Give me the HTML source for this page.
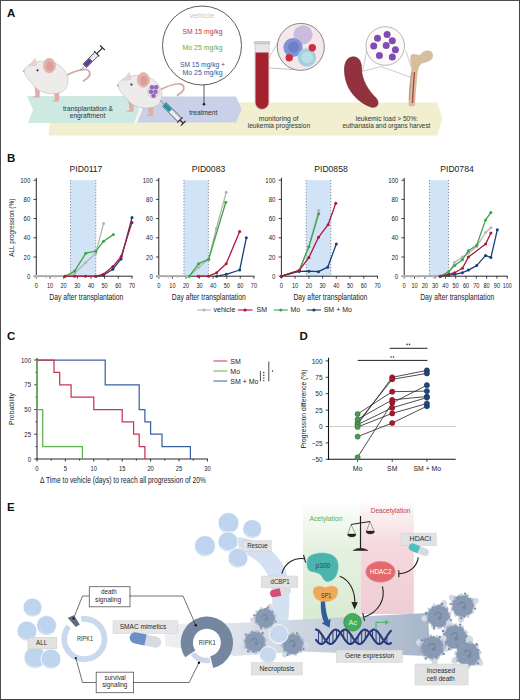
<!DOCTYPE html><html><head><meta charset="utf-8"><style>html,body{margin:0;padding:0;background:#fff;overflow:hidden;width:520px;height:700px;}svg{display:block;}text{font-family:"Liberation Sans",sans-serif;}</style></head><body>
<svg width="520" height="700" viewBox="0 0 520 700">
<rect width="520" height="700" fill="#fff"/>
<text x="7" y="16.5" font-size="11.5" font-weight="bold" fill="#111">A</text>
<polygon points="52,102.4 437.4,102.4 442.4,118.8 437.4,135.5 48.5,135.5" fill="#f2eed0"/>
<polygon points="27,96 134,96 139,109.5 134,123 28,123 33,109.5" fill="#cde9e2"/>
<polygon points="134,96 137,96.5 142.5,109.5 137,122.5 134,123 139.5,109.5" fill="#f7f7f4"/>
<polygon points="137,96.5 236,96.5 241.5,109.5 236,122.5 137,122.5 142.5,109.5" fill="#c9d1e8"/>
<text x="88.0" y="110.5" font-size="7" fill="#333" text-anchor="middle" font-weight="normal" textLength="50" lengthAdjust="spacingAndGlyphs" >transplantation &amp;</text>
<text x="87.5" y="118.3" font-size="7" fill="#333" text-anchor="middle" font-weight="normal" textLength="35.6" lengthAdjust="spacingAndGlyphs" >engraftment</text>
<text x="203.3" y="115.0" font-size="7" fill="#333" text-anchor="middle" font-weight="normal" textLength="28.3" lengthAdjust="spacingAndGlyphs" >treatment</text>
<text x="278.6" y="120.8" font-size="7" fill="#333" text-anchor="middle" font-weight="normal" textLength="39.7" lengthAdjust="spacingAndGlyphs" >monitoring of</text>
<text x="278.9" y="127.8" font-size="7" fill="#333" text-anchor="middle" font-weight="normal" textLength="62.3" lengthAdjust="spacingAndGlyphs" >leukemia progression</text>
<text x="386.8" y="120.6" font-size="7" fill="#333" text-anchor="middle" font-weight="normal" textLength="62" lengthAdjust="spacingAndGlyphs" >leukemic load &gt; 50%:</text>
<text x="386.4" y="128.3" font-size="7" fill="#333" text-anchor="middle" font-weight="normal" textLength="88" lengthAdjust="spacingAndGlyphs" >euthanasia and organs harvest</text>
<circle cx="202" cy="45.5" r="39.5" fill="#fff" stroke="#4a4a4a" stroke-width="0.9"/>
<line x1="204" y1="85" x2="204" y2="104" stroke="#333" stroke-width="0.8"/><circle cx="204" cy="104.2" r="1.3" fill="#222"/>
<text x="201.9" y="18.0" font-size="7.2" fill="#c9c9c9" text-anchor="middle" font-weight="normal" textLength="25.3" lengthAdjust="spacingAndGlyphs" >vehicle</text>
<text x="202.5" y="34.0" font-size="7.2" fill="#b8313c" text-anchor="middle" font-weight="normal" textLength="40" lengthAdjust="spacingAndGlyphs" >SM 15 mg/kg</text>
<text x="202.5" y="50.0" font-size="7.2" fill="#5aab4c" text-anchor="middle" font-weight="normal" textLength="40" lengthAdjust="spacingAndGlyphs" >Mo 25 mg/kg</text>
<text x="202.5" y="67.0" font-size="7.2" fill="#2f5597" text-anchor="middle" font-weight="normal" textLength="45" lengthAdjust="spacingAndGlyphs" >SM 15 mg/kg +</text>
<text x="202.5" y="75.0" font-size="7.2" fill="#2f5597" text-anchor="middle" font-weight="normal" textLength="40" lengthAdjust="spacingAndGlyphs" >Mo 25 mg/kg</text>
<g transform="translate(0,0)"><path d="M65,76 C73,72 80,69 86,69.5 C90.5,70 91,75 87.5,78 C85.5,79.5 84,80.5 83.5,81" stroke="#d9a4a2" stroke-width="1.7" fill="none" stroke-linecap="round"/><path d="M34.5,86 L35.5,95.5 L32,97.5 L39.5,97.5 L40,87 z" fill="#e2aca8"/><path d="M53.5,90 L55,99.5 L51.5,101.5 L59,101.5 L59.5,90 z" fill="#e2aca8"/><path d="M23.7,71.3 C25,67 29,64 34,62.5 C38,61 43,61 47,61.5 C53,61.5 60,64.5 64,70 C68.5,75 69.5,83 65.5,89 C60.5,94.5 50,94.5 44,92.5 C39,91 35.5,88.5 33,84.5 C29.5,81 26,77.5 23.7,71.3 z" fill="#eeebeb" stroke="#bdb7b7" stroke-width="0.55"/><path d="M28.8,66.2 L35.2,58.1 L36.9,65 z" fill="#ecd3d1" stroke="#c9bcbc" stroke-width="0.4"/><ellipse cx="49.4" cy="65.6" rx="6" ry="7.3" fill="#e6b3ae" stroke="#cf9f9a" stroke-width="0.5"/><ellipse cx="49.8" cy="66.2" rx="3.6" ry="5" fill="#dc9e99"/><circle cx="37.5" cy="70.3" r="1.1" fill="#333"/><circle cx="23.8" cy="71.2" r="0.9" fill="#d49a98"/></g>
<g transform="translate(94,14.3)"><path d="M65,76 C73,72 80,69 86,69.5 C90.5,70 91,75 87.5,78 C85.5,79.5 84,80.5 83.5,81" stroke="#d9a4a2" stroke-width="1.7" fill="none" stroke-linecap="round"/><path d="M34.5,86 L35.5,95.5 L32,97.5 L39.5,97.5 L40,87 z" fill="#e2aca8"/><path d="M53.5,90 L55,99.5 L51.5,101.5 L59,101.5 L59.5,90 z" fill="#e2aca8"/><path d="M23.7,71.3 C25,67 29,64 34,62.5 C38,61 43,61 47,61.5 C53,61.5 60,64.5 64,70 C68.5,75 69.5,83 65.5,89 C60.5,94.5 50,94.5 44,92.5 C39,91 35.5,88.5 33,84.5 C29.5,81 26,77.5 23.7,71.3 z" fill="#eeebeb" stroke="#bdb7b7" stroke-width="0.55"/><path d="M28.8,66.2 L35.2,58.1 L36.9,65 z" fill="#ecd3d1" stroke="#c9bcbc" stroke-width="0.4"/><ellipse cx="49.4" cy="65.6" rx="6" ry="7.3" fill="#e6b3ae" stroke="#cf9f9a" stroke-width="0.5"/><ellipse cx="49.8" cy="66.2" rx="3.6" ry="5" fill="#dc9e99"/><circle cx="37.5" cy="70.3" r="1.1" fill="#333"/><circle cx="23.8" cy="71.2" r="0.9" fill="#d49a98"/><circle cx="58" cy="73" r="2.2" fill="#7a3fa6"/><circle cx="62.2" cy="73" r="2.2" fill="#7a3fa6"/><circle cx="57" cy="77.5" r="2.2" fill="#7a3fa6"/><circle cx="61.5" cy="77.5" r="2.2" fill="#7a3fa6"/><circle cx="59.5" cy="81.5" r="2.2" fill="#7a3fa6"/><circle cx="59.5" cy="77.3" r="6.8" fill="#c9b5de" opacity="0.35"/></g>
<g transform="translate(80.4,70.3) rotate(-45.5)"><line x1="0" y1="0" x2="6.3" y2="0" stroke="#666" stroke-width="0.6"/><rect x="6.3" y="-2.5" width="17.0" height="5" fill="#eef0f6" stroke="#2d2d3a" stroke-width="0.7"/><rect x="6.7" y="-2" width="8.2" height="4" fill="#5e3797"/><line x1="16.0" y1="-2.4" x2="16.0" y2="-0.6" stroke="#555" stroke-width="0.4"/><line x1="18.2" y1="-2.4" x2="18.2" y2="-0.6" stroke="#555" stroke-width="0.4"/><line x1="20.4" y1="-2.4" x2="20.4" y2="-0.6" stroke="#555" stroke-width="0.4"/><line x1="23.3" y1="-3.8" x2="23.3" y2="3.8" stroke="#2d2d3a" stroke-width="1.1"/><line x1="23.3" y1="0" x2="31.5" y2="0" stroke="#2d2d3a" stroke-width="1.2"/><line x1="31.5" y1="-3.3" x2="31.5" y2="3.3" stroke="#2d2d3a" stroke-width="1.3"/></g>
<g transform="translate(159.7,99.8) rotate(45.0)"><line x1="0" y1="0" x2="6.6" y2="0" stroke="#666" stroke-width="0.6"/><rect x="6.6" y="-2.5" width="21.9" height="5" fill="#eef0f6" stroke="#2d2d3a" stroke-width="0.7"/><rect x="7.0" y="-2" width="8.3" height="4" fill="#1f95a3"/><line x1="16.5" y1="-2.4" x2="16.5" y2="-0.6" stroke="#555" stroke-width="0.4"/><line x1="18.7" y1="-2.4" x2="18.7" y2="-0.6" stroke="#555" stroke-width="0.4"/><line x1="20.9" y1="-2.4" x2="20.9" y2="-0.6" stroke="#555" stroke-width="0.4"/><line x1="23.1" y1="-2.4" x2="23.1" y2="-0.6" stroke="#555" stroke-width="0.4"/><line x1="25.3" y1="-2.4" x2="25.3" y2="-0.6" stroke="#555" stroke-width="0.4"/><line x1="27.5" y1="-2.4" x2="27.5" y2="-0.6" stroke="#555" stroke-width="0.4"/><line x1="28.6" y1="-3.8" x2="28.6" y2="3.8" stroke="#2d2d3a" stroke-width="1.1"/><line x1="28.6" y1="0" x2="33.2" y2="0" stroke="#2d2d3a" stroke-width="1.2"/><line x1="33.2" y1="-3.3" x2="33.2" y2="3.3" stroke="#2d2d3a" stroke-width="1.3"/></g>
<line x1="263" y1="67.7" x2="279.5" y2="40" stroke="#999" stroke-width="0.6"/>
<line x1="263" y1="67.7" x2="294" y2="69.5" stroke="#999" stroke-width="0.6"/>
<path d="M255,42.5 h14 v60 a7,7 0 0 1 -14,0 z" fill="#e9e6e8" stroke="#bbb" stroke-width="0.6"/>
<path d="M255.5,52.5 h13 v50 a6.5,6.5 0 0 1 -13,0 z" fill="#a3222e"/>
<rect x="254" y="41.5" width="16" height="2.4" rx="0.8" fill="#d0d0d0" stroke="#aaa" stroke-width="0.4"/>
<circle cx="300.8" cy="46.9" r="23.5" fill="#f4e8ea" stroke="#7a7a7a" stroke-width="0.9"/>
<circle cx="303" cy="34.8" r="9.6" fill="#cbbcdd"/>
<circle cx="293" cy="47.5" r="9.6" fill="#8093d6"/><circle cx="293.5" cy="47" r="5.5" fill="#6c7fc9"/>
<circle cx="306.9" cy="57.5" r="9.2" fill="#a3d0df"/><circle cx="307.2" cy="57.5" r="5.8" fill="#b9e0ea"/>
<circle cx="289.2" cy="57.7" r="3.7" fill="#cf2f3d"/><circle cx="312.3" cy="47.7" r="3.7" fill="#cf2f3d"/>
<polyline points="366.9,50 362.5,71.3 381,66.6 411.3,77.5" fill="none" stroke="#a9a9a9" stroke-width="0.6"/>
<line x1="405.7" y1="50.7" x2="411.6" y2="67.9" stroke="#a9a9a9" stroke-width="0.6"/>
<circle cx="385.2" cy="46" r="19.3" fill="#fcf9f7" stroke="#9a9a9a" stroke-width="0.7"/>
<circle cx="377.5" cy="38.3" r="3.5" fill="#7f4bb5"/>
<circle cx="387.1" cy="34.4" r="3.5" fill="#7f4bb5"/>
<circle cx="392.3" cy="40.8" r="3.5" fill="#7f4bb5"/>
<circle cx="373.7" cy="46" r="3.5" fill="#7f4bb5"/>
<circle cx="386.2" cy="45.6" r="3.5" fill="#7f4bb5"/>
<circle cx="395.4" cy="49.8" r="3.5" fill="#7f4bb5"/>
<circle cx="379.4" cy="55.6" r="3.5" fill="#7f4bb5"/>
<circle cx="392.3" cy="57.1" r="3.5" fill="#7f4bb5"/>
<path d="M350,57.5 C357,55 361.5,60 361.5,68 C361.5,80 368,90 376,98 C380,103 378,108.5 371,107 C359,103 348,92 345.3,78 C343.5,68 344.5,60 350,57.5 z" fill="#92323e" stroke="#6f2029" stroke-width="0.6"/>
<path d="M408.5,105 C408.5,92 410,80 411.5,68 C410.5,62 409.5,57 411.5,54.5 C414,53 417,55 420,55 C422,52 425,50 429,50.5 C433,51.5 434,56 432,59 C430,61.5 426,62 422,63.5 C419,65 418,70 417.5,74 C416.5,85 415.5,95 415,105 C413,107 410.5,107 408.5,105 z" fill="#d7bf9d"/>
<path d="M412.5,103 C413,92 413.5,82 414.5,72" stroke="#b5434f" stroke-width="1.4" fill="none"/>
<path d="M409.5,100 C409.5,92 410.5,82 411.8,72" stroke="#b98c6e" stroke-width="1.2" fill="none" opacity="0.7"/>
<text x="7" y="162" font-size="11.5" font-weight="bold" fill="#111">B</text>
<text transform="translate(13.9,227.7) rotate(-90)" font-size="7.4" fill="#222" text-anchor="middle" textLength="58" lengthAdjust="spacingAndGlyphs">ALL progression (%)</text>
<rect x="70.5" y="180.2" width="25.3" height="96.0" fill="#d1e3f6"/>
<line x1="70.5" y1="180.2" x2="70.5" y2="276.2" stroke="#3d4a60" stroke-width="0.7" stroke-dasharray="1,2"/>
<line x1="95.8" y1="180.2" x2="95.8" y2="276.2" stroke="#3d4a60" stroke-width="0.7" stroke-dasharray="1,2"/>
<line x1="36.3" y1="177.8" x2="36.3" y2="276.7" stroke="#111" stroke-width="0.9"/>
<line x1="35.8" y1="276.2" x2="132.5" y2="276.2" stroke="#111" stroke-width="0.9"/>
<line x1="33.5" y1="276.2" x2="36.3" y2="276.2" stroke="#111" stroke-width="0.8"/>
<text x="30.3" y="278.8" font-size="7.2" fill="#222" text-anchor="end" font-weight="normal" textLength="3.35" lengthAdjust="spacingAndGlyphs" >0</text>
<line x1="33.5" y1="257.0" x2="36.3" y2="257.0" stroke="#111" stroke-width="0.8"/>
<text x="30.3" y="259.6" font-size="7.2" fill="#222" text-anchor="end" font-weight="normal" textLength="6.7" lengthAdjust="spacingAndGlyphs" >20</text>
<line x1="33.5" y1="237.8" x2="36.3" y2="237.8" stroke="#111" stroke-width="0.8"/>
<text x="30.3" y="240.4" font-size="7.2" fill="#222" text-anchor="end" font-weight="normal" textLength="6.7" lengthAdjust="spacingAndGlyphs" >40</text>
<line x1="33.5" y1="218.6" x2="36.3" y2="218.6" stroke="#111" stroke-width="0.8"/>
<text x="30.3" y="221.2" font-size="7.2" fill="#222" text-anchor="end" font-weight="normal" textLength="6.7" lengthAdjust="spacingAndGlyphs" >60</text>
<line x1="33.5" y1="199.4" x2="36.3" y2="199.4" stroke="#111" stroke-width="0.8"/>
<text x="30.3" y="202.0" font-size="7.2" fill="#222" text-anchor="end" font-weight="normal" textLength="6.7" lengthAdjust="spacingAndGlyphs" >80</text>
<line x1="33.5" y1="180.2" x2="36.3" y2="180.2" stroke="#111" stroke-width="0.8"/>
<text x="30.3" y="182.8" font-size="7.2" fill="#222" text-anchor="end" font-weight="normal" textLength="10.05" lengthAdjust="spacingAndGlyphs" >100</text>
<line x1="36.3" y1="276.2" x2="36.3" y2="278.7" stroke="#111" stroke-width="0.8"/>
<text x="36.3" y="287.5" font-size="6.6" fill="#222" text-anchor="middle" font-weight="normal" textLength="3.2" lengthAdjust="spacingAndGlyphs" font-stretch="condensed">0</text>
<line x1="50.0" y1="276.2" x2="50.0" y2="278.7" stroke="#111" stroke-width="0.8"/>
<text x="50.0" y="287.5" font-size="6.6" fill="#222" text-anchor="middle" font-weight="normal" textLength="6.2" lengthAdjust="spacingAndGlyphs" font-stretch="condensed">10</text>
<line x1="63.6" y1="276.2" x2="63.6" y2="278.7" stroke="#111" stroke-width="0.8"/>
<text x="63.6" y="287.5" font-size="6.6" fill="#222" text-anchor="middle" font-weight="normal" textLength="6.2" lengthAdjust="spacingAndGlyphs" font-stretch="condensed">20</text>
<line x1="77.3" y1="276.2" x2="77.3" y2="278.7" stroke="#111" stroke-width="0.8"/>
<text x="77.3" y="287.5" font-size="6.6" fill="#222" text-anchor="middle" font-weight="normal" textLength="6.2" lengthAdjust="spacingAndGlyphs" font-stretch="condensed">30</text>
<line x1="91.0" y1="276.2" x2="91.0" y2="278.7" stroke="#111" stroke-width="0.8"/>
<text x="91.0" y="287.5" font-size="6.6" fill="#222" text-anchor="middle" font-weight="normal" textLength="6.2" lengthAdjust="spacingAndGlyphs" font-stretch="condensed">40</text>
<line x1="104.6" y1="276.2" x2="104.6" y2="278.7" stroke="#111" stroke-width="0.8"/>
<text x="104.6" y="287.5" font-size="6.6" fill="#222" text-anchor="middle" font-weight="normal" textLength="6.2" lengthAdjust="spacingAndGlyphs" font-stretch="condensed">50</text>
<line x1="118.3" y1="276.2" x2="118.3" y2="278.7" stroke="#111" stroke-width="0.8"/>
<text x="118.3" y="287.5" font-size="6.6" fill="#222" text-anchor="middle" font-weight="normal" textLength="6.2" lengthAdjust="spacingAndGlyphs" font-stretch="condensed">60</text>
<line x1="132.0" y1="276.2" x2="132.0" y2="278.7" stroke="#111" stroke-width="0.8"/>
<text x="132.0" y="287.5" font-size="6.6" fill="#222" text-anchor="middle" font-weight="normal" textLength="6.2" lengthAdjust="spacingAndGlyphs" font-stretch="condensed">70</text>
<text x="86.3" y="300.0" font-size="8.2" fill="#222" text-anchor="middle" font-weight="normal" textLength="74" lengthAdjust="spacingAndGlyphs" >Day after transplantation</text>
<text x="86.0" y="172.0" font-size="8.6" fill="#222" text-anchor="middle" font-weight="normal" >PID0117</text>
<polyline points="36.3,276.2 45.9,276.2 55.4,276.2 65.0,276.2 74.6,273.3 85.5,262.8 95.8,253.2 103.6,223.4" fill="none" stroke="#b5b5b5" stroke-width="1.3" stroke-linejoin="round"/>
<circle cx="36.3" cy="276.2" r="1.5" fill="#b5b5b5"/>
<circle cx="45.9" cy="276.2" r="1.5" fill="#b5b5b5"/>
<circle cx="55.4" cy="276.2" r="1.5" fill="#b5b5b5"/>
<circle cx="65.0" cy="276.2" r="1.5" fill="#b5b5b5"/>
<circle cx="74.6" cy="273.3" r="1.5" fill="#b5b5b5"/>
<circle cx="85.5" cy="262.8" r="1.5" fill="#b5b5b5"/>
<circle cx="95.8" cy="253.2" r="1.5" fill="#b5b5b5"/>
<circle cx="103.6" cy="223.4" r="1.5" fill="#b5b5b5"/>
<polyline points="65.0,276.2 74.6,271.1 85.8,253.2 95.8,251.2 103.6,241.2 113.4,234.6" fill="none" stroke="#3fa545" stroke-width="1.3" stroke-linejoin="round"/>
<circle cx="65.0" cy="276.2" r="1.5" fill="#3fa545"/>
<circle cx="74.6" cy="271.1" r="1.5" fill="#3fa545"/>
<circle cx="85.8" cy="253.2" r="1.5" fill="#3fa545"/>
<circle cx="95.8" cy="251.2" r="1.5" fill="#3fa545"/>
<circle cx="103.6" cy="241.2" r="1.5" fill="#3fa545"/>
<circle cx="113.4" cy="234.6" r="1.5" fill="#3fa545"/>
<polyline points="95.8,276.2 103.3,275.2 112.9,269.2 121.1,258.9 132.0,217.6" fill="none" stroke="#1a3f78" stroke-width="1.3" stroke-linejoin="round"/>
<circle cx="95.8" cy="276.2" r="1.5" fill="#1a3f78"/>
<circle cx="103.3" cy="275.2" r="1.5" fill="#1a3f78"/>
<circle cx="112.9" cy="269.2" r="1.5" fill="#1a3f78"/>
<circle cx="121.1" cy="258.9" r="1.5" fill="#1a3f78"/>
<circle cx="132.0" cy="217.6" r="1.5" fill="#1a3f78"/>
<polyline points="65.0,276.2 74.6,276.2 85.5,276.2 95.8,276.2 103.3,274.3 112.9,266.6 121.1,256.6 132.0,222.4" fill="none" stroke="#b0173a" stroke-width="1.3" stroke-linejoin="round"/>
<circle cx="65.0" cy="276.2" r="1.5" fill="#b0173a"/>
<circle cx="74.6" cy="276.2" r="1.5" fill="#b0173a"/>
<circle cx="85.5" cy="276.2" r="1.5" fill="#b0173a"/>
<circle cx="95.8" cy="276.2" r="1.5" fill="#b0173a"/>
<circle cx="103.3" cy="274.3" r="1.5" fill="#b0173a"/>
<circle cx="112.9" cy="266.6" r="1.5" fill="#b0173a"/>
<circle cx="121.1" cy="256.6" r="1.5" fill="#b0173a"/>
<circle cx="132.0" cy="222.4" r="1.5" fill="#b0173a"/>
<rect x="183.9" y="180.2" width="24.5" height="96.0" fill="#d1e3f6"/>
<line x1="183.9" y1="180.2" x2="183.9" y2="276.2" stroke="#3d4a60" stroke-width="0.7" stroke-dasharray="1,2"/>
<line x1="208.4" y1="180.2" x2="208.4" y2="276.2" stroke="#3d4a60" stroke-width="0.7" stroke-dasharray="1,2"/>
<line x1="158.8" y1="177.8" x2="158.8" y2="276.7" stroke="#111" stroke-width="0.9"/>
<line x1="158.3" y1="276.2" x2="254.4" y2="276.2" stroke="#111" stroke-width="0.9"/>
<line x1="156.0" y1="276.2" x2="158.8" y2="276.2" stroke="#111" stroke-width="0.8"/>
<text x="152.8" y="278.8" font-size="7.2" fill="#222" text-anchor="end" font-weight="normal" textLength="3.35" lengthAdjust="spacingAndGlyphs" >0</text>
<line x1="156.0" y1="257.0" x2="158.8" y2="257.0" stroke="#111" stroke-width="0.8"/>
<text x="152.8" y="259.6" font-size="7.2" fill="#222" text-anchor="end" font-weight="normal" textLength="6.7" lengthAdjust="spacingAndGlyphs" >20</text>
<line x1="156.0" y1="237.8" x2="158.8" y2="237.8" stroke="#111" stroke-width="0.8"/>
<text x="152.8" y="240.4" font-size="7.2" fill="#222" text-anchor="end" font-weight="normal" textLength="6.7" lengthAdjust="spacingAndGlyphs" >40</text>
<line x1="156.0" y1="218.6" x2="158.8" y2="218.6" stroke="#111" stroke-width="0.8"/>
<text x="152.8" y="221.2" font-size="7.2" fill="#222" text-anchor="end" font-weight="normal" textLength="6.7" lengthAdjust="spacingAndGlyphs" >60</text>
<line x1="156.0" y1="199.4" x2="158.8" y2="199.4" stroke="#111" stroke-width="0.8"/>
<text x="152.8" y="202.0" font-size="7.2" fill="#222" text-anchor="end" font-weight="normal" textLength="6.7" lengthAdjust="spacingAndGlyphs" >80</text>
<line x1="156.0" y1="180.2" x2="158.8" y2="180.2" stroke="#111" stroke-width="0.8"/>
<text x="152.8" y="182.8" font-size="7.2" fill="#222" text-anchor="end" font-weight="normal" textLength="10.05" lengthAdjust="spacingAndGlyphs" >100</text>
<line x1="158.8" y1="276.2" x2="158.8" y2="278.7" stroke="#111" stroke-width="0.8"/>
<text x="158.8" y="287.5" font-size="6.6" fill="#222" text-anchor="middle" font-weight="normal" textLength="3.2" lengthAdjust="spacingAndGlyphs" font-stretch="condensed">0</text>
<line x1="172.4" y1="276.2" x2="172.4" y2="278.7" stroke="#111" stroke-width="0.8"/>
<text x="172.4" y="287.5" font-size="6.6" fill="#222" text-anchor="middle" font-weight="normal" textLength="6.2" lengthAdjust="spacingAndGlyphs" font-stretch="condensed">10</text>
<line x1="186.0" y1="276.2" x2="186.0" y2="278.7" stroke="#111" stroke-width="0.8"/>
<text x="186.0" y="287.5" font-size="6.6" fill="#222" text-anchor="middle" font-weight="normal" textLength="6.2" lengthAdjust="spacingAndGlyphs" font-stretch="condensed">20</text>
<line x1="199.6" y1="276.2" x2="199.6" y2="278.7" stroke="#111" stroke-width="0.8"/>
<text x="199.6" y="287.5" font-size="6.6" fill="#222" text-anchor="middle" font-weight="normal" textLength="6.2" lengthAdjust="spacingAndGlyphs" font-stretch="condensed">30</text>
<line x1="213.2" y1="276.2" x2="213.2" y2="278.7" stroke="#111" stroke-width="0.8"/>
<text x="213.2" y="287.5" font-size="6.6" fill="#222" text-anchor="middle" font-weight="normal" textLength="6.2" lengthAdjust="spacingAndGlyphs" font-stretch="condensed">40</text>
<line x1="226.8" y1="276.2" x2="226.8" y2="278.7" stroke="#111" stroke-width="0.8"/>
<text x="226.8" y="287.5" font-size="6.6" fill="#222" text-anchor="middle" font-weight="normal" textLength="6.2" lengthAdjust="spacingAndGlyphs" font-stretch="condensed">50</text>
<line x1="240.3" y1="276.2" x2="240.3" y2="278.7" stroke="#111" stroke-width="0.8"/>
<text x="240.3" y="287.5" font-size="6.6" fill="#222" text-anchor="middle" font-weight="normal" textLength="6.2" lengthAdjust="spacingAndGlyphs" font-stretch="condensed">60</text>
<line x1="253.9" y1="276.2" x2="253.9" y2="278.7" stroke="#111" stroke-width="0.8"/>
<text x="253.9" y="287.5" font-size="6.6" fill="#222" text-anchor="middle" font-weight="normal" textLength="6.2" lengthAdjust="spacingAndGlyphs" font-stretch="condensed">70</text>
<text x="208.8" y="300.0" font-size="8.2" fill="#222" text-anchor="middle" font-weight="normal" textLength="74" lengthAdjust="spacingAndGlyphs" >Day after transplantation</text>
<text x="208.5" y="172.0" font-size="8.6" fill="#222" text-anchor="middle" font-weight="normal" >PID0083</text>
<polyline points="158.8,276.2 168.3,276.2 177.8,276.2 187.3,276.2 189.4,276.2 198.6,267.6 208.7,259.2 216.3,228.5 226.2,192.3" fill="none" stroke="#b5b5b5" stroke-width="1.3" stroke-linejoin="round"/>
<circle cx="158.8" cy="276.2" r="1.5" fill="#b5b5b5"/>
<circle cx="168.3" cy="276.2" r="1.5" fill="#b5b5b5"/>
<circle cx="177.8" cy="276.2" r="1.5" fill="#b5b5b5"/>
<circle cx="187.3" cy="276.2" r="1.5" fill="#b5b5b5"/>
<circle cx="189.4" cy="276.2" r="1.5" fill="#b5b5b5"/>
<circle cx="198.6" cy="267.6" r="1.5" fill="#b5b5b5"/>
<circle cx="208.7" cy="259.2" r="1.5" fill="#b5b5b5"/>
<circle cx="216.3" cy="228.5" r="1.5" fill="#b5b5b5"/>
<circle cx="226.2" cy="192.3" r="1.5" fill="#b5b5b5"/>
<polyline points="189.4,276.2 198.6,263.7 208.7,259.2 225.8,202.3" fill="none" stroke="#3fa545" stroke-width="1.3" stroke-linejoin="round"/>
<circle cx="189.4" cy="276.2" r="1.5" fill="#3fa545"/>
<circle cx="198.6" cy="263.7" r="1.5" fill="#3fa545"/>
<circle cx="208.7" cy="259.2" r="1.5" fill="#3fa545"/>
<circle cx="225.8" cy="202.3" r="1.5" fill="#3fa545"/>
<polyline points="216.6,276.2 226.2,274.3 239.7,270.0 246.3,237.8" fill="none" stroke="#1a3f78" stroke-width="1.3" stroke-linejoin="round"/>
<circle cx="216.6" cy="276.2" r="1.5" fill="#1a3f78"/>
<circle cx="226.2" cy="274.3" r="1.5" fill="#1a3f78"/>
<circle cx="239.7" cy="270.0" r="1.5" fill="#1a3f78"/>
<circle cx="246.3" cy="237.8" r="1.5" fill="#1a3f78"/>
<polyline points="198.2,276.2 208.5,276.2 216.6,272.8 226.2,263.7 239.7,231.6" fill="none" stroke="#b0173a" stroke-width="1.3" stroke-linejoin="round"/>
<circle cx="198.2" cy="276.2" r="1.5" fill="#b0173a"/>
<circle cx="208.5" cy="276.2" r="1.5" fill="#b0173a"/>
<circle cx="216.6" cy="272.8" r="1.5" fill="#b0173a"/>
<circle cx="226.2" cy="263.7" r="1.5" fill="#b0173a"/>
<circle cx="239.7" cy="231.6" r="1.5" fill="#b0173a"/>
<rect x="306.1" y="180.2" width="24.7" height="96.0" fill="#d1e3f6"/>
<line x1="306.1" y1="180.2" x2="306.1" y2="276.2" stroke="#3d4a60" stroke-width="0.7" stroke-dasharray="1,2"/>
<line x1="330.8" y1="180.2" x2="330.8" y2="276.2" stroke="#3d4a60" stroke-width="0.7" stroke-dasharray="1,2"/>
<line x1="281.4" y1="177.8" x2="281.4" y2="276.7" stroke="#111" stroke-width="0.9"/>
<line x1="280.9" y1="276.2" x2="378.0" y2="276.2" stroke="#111" stroke-width="0.9"/>
<line x1="278.59999999999997" y1="276.2" x2="281.4" y2="276.2" stroke="#111" stroke-width="0.8"/>
<text x="275.4" y="278.8" font-size="7.2" fill="#222" text-anchor="end" font-weight="normal" textLength="3.35" lengthAdjust="spacingAndGlyphs" >0</text>
<line x1="278.59999999999997" y1="257.0" x2="281.4" y2="257.0" stroke="#111" stroke-width="0.8"/>
<text x="275.4" y="259.6" font-size="7.2" fill="#222" text-anchor="end" font-weight="normal" textLength="6.7" lengthAdjust="spacingAndGlyphs" >20</text>
<line x1="278.59999999999997" y1="237.8" x2="281.4" y2="237.8" stroke="#111" stroke-width="0.8"/>
<text x="275.4" y="240.4" font-size="7.2" fill="#222" text-anchor="end" font-weight="normal" textLength="6.7" lengthAdjust="spacingAndGlyphs" >40</text>
<line x1="278.59999999999997" y1="218.6" x2="281.4" y2="218.6" stroke="#111" stroke-width="0.8"/>
<text x="275.4" y="221.2" font-size="7.2" fill="#222" text-anchor="end" font-weight="normal" textLength="6.7" lengthAdjust="spacingAndGlyphs" >60</text>
<line x1="278.59999999999997" y1="199.4" x2="281.4" y2="199.4" stroke="#111" stroke-width="0.8"/>
<text x="275.4" y="202.0" font-size="7.2" fill="#222" text-anchor="end" font-weight="normal" textLength="6.7" lengthAdjust="spacingAndGlyphs" >80</text>
<line x1="278.59999999999997" y1="180.2" x2="281.4" y2="180.2" stroke="#111" stroke-width="0.8"/>
<text x="275.4" y="182.8" font-size="7.2" fill="#222" text-anchor="end" font-weight="normal" textLength="10.05" lengthAdjust="spacingAndGlyphs" >100</text>
<line x1="281.4" y1="276.2" x2="281.4" y2="278.7" stroke="#111" stroke-width="0.8"/>
<text x="281.4" y="287.5" font-size="6.6" fill="#222" text-anchor="middle" font-weight="normal" textLength="3.2" lengthAdjust="spacingAndGlyphs" font-stretch="condensed">0</text>
<line x1="295.1" y1="276.2" x2="295.1" y2="278.7" stroke="#111" stroke-width="0.8"/>
<text x="295.1" y="287.5" font-size="6.6" fill="#222" text-anchor="middle" font-weight="normal" textLength="6.2" lengthAdjust="spacingAndGlyphs" font-stretch="condensed">10</text>
<line x1="308.9" y1="276.2" x2="308.9" y2="278.7" stroke="#111" stroke-width="0.8"/>
<text x="308.9" y="287.5" font-size="6.6" fill="#222" text-anchor="middle" font-weight="normal" textLength="6.2" lengthAdjust="spacingAndGlyphs" font-stretch="condensed">20</text>
<line x1="322.6" y1="276.2" x2="322.6" y2="278.7" stroke="#111" stroke-width="0.8"/>
<text x="322.6" y="287.5" font-size="6.6" fill="#222" text-anchor="middle" font-weight="normal" textLength="6.2" lengthAdjust="spacingAndGlyphs" font-stretch="condensed">30</text>
<line x1="336.3" y1="276.2" x2="336.3" y2="278.7" stroke="#111" stroke-width="0.8"/>
<text x="336.3" y="287.5" font-size="6.6" fill="#222" text-anchor="middle" font-weight="normal" textLength="6.2" lengthAdjust="spacingAndGlyphs" font-stretch="condensed">40</text>
<line x1="350.0" y1="276.2" x2="350.0" y2="278.7" stroke="#111" stroke-width="0.8"/>
<text x="350.0" y="287.5" font-size="6.6" fill="#222" text-anchor="middle" font-weight="normal" textLength="6.2" lengthAdjust="spacingAndGlyphs" font-stretch="condensed">50</text>
<line x1="363.8" y1="276.2" x2="363.8" y2="278.7" stroke="#111" stroke-width="0.8"/>
<text x="363.8" y="287.5" font-size="6.6" fill="#222" text-anchor="middle" font-weight="normal" textLength="6.2" lengthAdjust="spacingAndGlyphs" font-stretch="condensed">60</text>
<line x1="377.5" y1="276.2" x2="377.5" y2="278.7" stroke="#111" stroke-width="0.8"/>
<text x="377.5" y="287.5" font-size="6.6" fill="#222" text-anchor="middle" font-weight="normal" textLength="6.2" lengthAdjust="spacingAndGlyphs" font-stretch="condensed">70</text>
<text x="330.4" y="300.0" font-size="8.2" fill="#222" text-anchor="middle" font-weight="normal" textLength="74" lengthAdjust="spacingAndGlyphs" >Day after transplantation</text>
<text x="331.0" y="172.0" font-size="8.6" fill="#222" text-anchor="middle" font-weight="normal" >PID0858</text>
<polyline points="281.4,276.2 299.2,270.4 308.9,246.4 318.7,210.4" fill="none" stroke="#b5b5b5" stroke-width="1.3" stroke-linejoin="round"/>
<circle cx="281.4" cy="276.2" r="1.5" fill="#b5b5b5"/>
<circle cx="299.2" cy="270.4" r="1.5" fill="#b5b5b5"/>
<circle cx="308.9" cy="246.4" r="1.5" fill="#b5b5b5"/>
<circle cx="318.7" cy="210.4" r="1.5" fill="#b5b5b5"/>
<polyline points="281.4,276.2 299.2,270.4 308.9,246.7 318.7,213.8" fill="none" stroke="#3fa545" stroke-width="1.3" stroke-linejoin="round"/>
<circle cx="281.4" cy="276.2" r="1.5" fill="#3fa545"/>
<circle cx="299.2" cy="270.4" r="1.5" fill="#3fa545"/>
<circle cx="308.9" cy="246.7" r="1.5" fill="#3fa545"/>
<circle cx="318.7" cy="213.8" r="1.5" fill="#3fa545"/>
<polyline points="281.4,276.2 299.2,271.4 308.9,271.2 318.5,271.7 327.7,267.2 336.3,244.0" fill="none" stroke="#1a3f78" stroke-width="1.3" stroke-linejoin="round"/>
<circle cx="281.4" cy="276.2" r="1.5" fill="#1a3f78"/>
<circle cx="299.2" cy="271.4" r="1.5" fill="#1a3f78"/>
<circle cx="308.9" cy="271.2" r="1.5" fill="#1a3f78"/>
<circle cx="318.5" cy="271.7" r="1.5" fill="#1a3f78"/>
<circle cx="327.7" cy="267.2" r="1.5" fill="#1a3f78"/>
<circle cx="336.3" cy="244.0" r="1.5" fill="#1a3f78"/>
<polyline points="281.4,276.2 299.2,270.4 308.9,257.5 318.5,237.3 328.1,224.7 335.8,203.2" fill="none" stroke="#b0173a" stroke-width="1.3" stroke-linejoin="round"/>
<circle cx="281.4" cy="276.2" r="1.5" fill="#b0173a"/>
<circle cx="299.2" cy="270.4" r="1.5" fill="#b0173a"/>
<circle cx="308.9" cy="257.5" r="1.5" fill="#b0173a"/>
<circle cx="318.5" cy="237.3" r="1.5" fill="#b0173a"/>
<circle cx="328.1" cy="224.7" r="1.5" fill="#b0173a"/>
<circle cx="335.8" cy="203.2" r="1.5" fill="#b0173a"/>
<rect x="429.5" y="180.2" width="19.0" height="96.0" fill="#d1e3f6"/>
<line x1="429.5" y1="180.2" x2="429.5" y2="276.2" stroke="#3d4a60" stroke-width="0.7" stroke-dasharray="1,2"/>
<line x1="448.5" y1="180.2" x2="448.5" y2="276.2" stroke="#3d4a60" stroke-width="0.7" stroke-dasharray="1,2"/>
<line x1="404.2" y1="177.8" x2="404.2" y2="276.7" stroke="#111" stroke-width="0.9"/>
<line x1="403.7" y1="276.2" x2="507.7" y2="276.2" stroke="#111" stroke-width="0.9"/>
<line x1="401.4" y1="276.2" x2="404.2" y2="276.2" stroke="#111" stroke-width="0.8"/>
<text x="398.2" y="278.8" font-size="7.2" fill="#222" text-anchor="end" font-weight="normal" textLength="3.35" lengthAdjust="spacingAndGlyphs" >0</text>
<line x1="401.4" y1="257.0" x2="404.2" y2="257.0" stroke="#111" stroke-width="0.8"/>
<text x="398.2" y="259.6" font-size="7.2" fill="#222" text-anchor="end" font-weight="normal" textLength="6.7" lengthAdjust="spacingAndGlyphs" >20</text>
<line x1="401.4" y1="237.8" x2="404.2" y2="237.8" stroke="#111" stroke-width="0.8"/>
<text x="398.2" y="240.4" font-size="7.2" fill="#222" text-anchor="end" font-weight="normal" textLength="6.7" lengthAdjust="spacingAndGlyphs" >40</text>
<line x1="401.4" y1="218.6" x2="404.2" y2="218.6" stroke="#111" stroke-width="0.8"/>
<text x="398.2" y="221.2" font-size="7.2" fill="#222" text-anchor="end" font-weight="normal" textLength="6.7" lengthAdjust="spacingAndGlyphs" >60</text>
<line x1="401.4" y1="199.4" x2="404.2" y2="199.4" stroke="#111" stroke-width="0.8"/>
<text x="398.2" y="202.0" font-size="7.2" fill="#222" text-anchor="end" font-weight="normal" textLength="6.7" lengthAdjust="spacingAndGlyphs" >80</text>
<line x1="401.4" y1="180.2" x2="404.2" y2="180.2" stroke="#111" stroke-width="0.8"/>
<text x="398.2" y="182.8" font-size="7.2" fill="#222" text-anchor="end" font-weight="normal" textLength="10.05" lengthAdjust="spacingAndGlyphs" >100</text>
<line x1="404.2" y1="276.2" x2="404.2" y2="278.7" stroke="#111" stroke-width="0.8"/>
<text x="404.2" y="287.5" font-size="6.6" fill="#222" text-anchor="middle" font-weight="normal" textLength="3.2" lengthAdjust="spacingAndGlyphs" font-stretch="condensed">0</text>
<line x1="414.5" y1="276.2" x2="414.5" y2="278.7" stroke="#111" stroke-width="0.8"/>
<text x="414.5" y="287.5" font-size="6.6" fill="#222" text-anchor="middle" font-weight="normal" textLength="6.2" lengthAdjust="spacingAndGlyphs" font-stretch="condensed">10</text>
<line x1="424.8" y1="276.2" x2="424.8" y2="278.7" stroke="#111" stroke-width="0.8"/>
<text x="424.8" y="287.5" font-size="6.6" fill="#222" text-anchor="middle" font-weight="normal" textLength="6.2" lengthAdjust="spacingAndGlyphs" font-stretch="condensed">20</text>
<line x1="435.1" y1="276.2" x2="435.1" y2="278.7" stroke="#111" stroke-width="0.8"/>
<text x="435.1" y="287.5" font-size="6.6" fill="#222" text-anchor="middle" font-weight="normal" textLength="6.2" lengthAdjust="spacingAndGlyphs" font-stretch="condensed">30</text>
<line x1="445.4" y1="276.2" x2="445.4" y2="278.7" stroke="#111" stroke-width="0.8"/>
<text x="445.4" y="287.5" font-size="6.6" fill="#222" text-anchor="middle" font-weight="normal" textLength="6.2" lengthAdjust="spacingAndGlyphs" font-stretch="condensed">40</text>
<line x1="455.7" y1="276.2" x2="455.7" y2="278.7" stroke="#111" stroke-width="0.8"/>
<text x="455.7" y="287.5" font-size="6.6" fill="#222" text-anchor="middle" font-weight="normal" textLength="6.2" lengthAdjust="spacingAndGlyphs" font-stretch="condensed">50</text>
<line x1="466.0" y1="276.2" x2="466.0" y2="278.7" stroke="#111" stroke-width="0.8"/>
<text x="466.0" y="287.5" font-size="6.6" fill="#222" text-anchor="middle" font-weight="normal" textLength="6.2" lengthAdjust="spacingAndGlyphs" font-stretch="condensed">60</text>
<line x1="476.3" y1="276.2" x2="476.3" y2="278.7" stroke="#111" stroke-width="0.8"/>
<text x="476.3" y="287.5" font-size="6.6" fill="#222" text-anchor="middle" font-weight="normal" textLength="6.2" lengthAdjust="spacingAndGlyphs" font-stretch="condensed">70</text>
<line x1="486.6" y1="276.2" x2="486.6" y2="278.7" stroke="#111" stroke-width="0.8"/>
<text x="486.6" y="287.5" font-size="6.6" fill="#222" text-anchor="middle" font-weight="normal" textLength="6.2" lengthAdjust="spacingAndGlyphs" font-stretch="condensed">80</text>
<line x1="496.9" y1="276.2" x2="496.9" y2="278.7" stroke="#111" stroke-width="0.8"/>
<text x="496.9" y="287.5" font-size="6.6" fill="#222" text-anchor="middle" font-weight="normal" textLength="6.2" lengthAdjust="spacingAndGlyphs" font-stretch="condensed">90</text>
<line x1="507.2" y1="276.2" x2="507.2" y2="278.7" stroke="#111" stroke-width="0.8"/>
<text x="507.2" y="287.5" font-size="6.6" fill="#222" text-anchor="middle" font-weight="normal" textLength="9" lengthAdjust="spacingAndGlyphs" font-stretch="condensed">100</text>
<text x="457.2" y="300.0" font-size="8.2" fill="#222" text-anchor="middle" font-weight="normal" textLength="74" lengthAdjust="spacingAndGlyphs" >Day after transplantation</text>
<text x="457.0" y="172.0" font-size="8.6" fill="#222" text-anchor="middle" font-weight="normal" >PID0784</text>
<polyline points="404.2,276.2 411.4,276.2 418.6,276.2 425.8,276.2 433.0,276.2 440.2,276.2 448.5,273.3 454.7,262.3 462.4,257.1 468.4,253.2 476.7,246.4 485.6,232.5 490.9,227.7" fill="none" stroke="#b5b5b5" stroke-width="1.3" stroke-linejoin="round"/>
<circle cx="404.2" cy="276.2" r="1.5" fill="#b5b5b5"/>
<circle cx="411.4" cy="276.2" r="1.5" fill="#b5b5b5"/>
<circle cx="418.6" cy="276.2" r="1.5" fill="#b5b5b5"/>
<circle cx="425.8" cy="276.2" r="1.5" fill="#b5b5b5"/>
<circle cx="433.0" cy="276.2" r="1.5" fill="#b5b5b5"/>
<circle cx="440.2" cy="276.2" r="1.5" fill="#b5b5b5"/>
<circle cx="448.5" cy="273.3" r="1.5" fill="#b5b5b5"/>
<circle cx="454.7" cy="262.3" r="1.5" fill="#b5b5b5"/>
<circle cx="462.4" cy="257.1" r="1.5" fill="#b5b5b5"/>
<circle cx="468.4" cy="253.2" r="1.5" fill="#b5b5b5"/>
<circle cx="476.7" cy="246.4" r="1.5" fill="#b5b5b5"/>
<circle cx="485.6" cy="232.5" r="1.5" fill="#b5b5b5"/>
<circle cx="490.9" cy="227.7" r="1.5" fill="#b5b5b5"/>
<polyline points="440.2,276.2 448.5,271.8 454.7,265.4 462.4,259.7 468.4,250.8 476.7,245.3 485.6,219.9 490.9,212.5" fill="none" stroke="#3fa545" stroke-width="1.3" stroke-linejoin="round"/>
<circle cx="440.2" cy="276.2" r="1.5" fill="#3fa545"/>
<circle cx="448.5" cy="271.8" r="1.5" fill="#3fa545"/>
<circle cx="454.7" cy="265.4" r="1.5" fill="#3fa545"/>
<circle cx="462.4" cy="259.7" r="1.5" fill="#3fa545"/>
<circle cx="468.4" cy="250.8" r="1.5" fill="#3fa545"/>
<circle cx="476.7" cy="245.3" r="1.5" fill="#3fa545"/>
<circle cx="485.6" cy="219.9" r="1.5" fill="#3fa545"/>
<circle cx="490.9" cy="212.5" r="1.5" fill="#3fa545"/>
<polyline points="440.2,276.2 448.5,275.2 454.7,274.3 462.4,272.7 468.4,270.1 476.7,265.6 485.6,255.4 490.9,257.6 497.3,229.8" fill="none" stroke="#1a3f78" stroke-width="1.3" stroke-linejoin="round"/>
<circle cx="440.2" cy="276.2" r="1.5" fill="#1a3f78"/>
<circle cx="448.5" cy="275.2" r="1.5" fill="#1a3f78"/>
<circle cx="454.7" cy="274.3" r="1.5" fill="#1a3f78"/>
<circle cx="462.4" cy="272.7" r="1.5" fill="#1a3f78"/>
<circle cx="468.4" cy="270.1" r="1.5" fill="#1a3f78"/>
<circle cx="476.7" cy="265.6" r="1.5" fill="#1a3f78"/>
<circle cx="485.6" cy="255.4" r="1.5" fill="#1a3f78"/>
<circle cx="490.9" cy="257.6" r="1.5" fill="#1a3f78"/>
<circle cx="497.3" cy="229.8" r="1.5" fill="#1a3f78"/>
<polyline points="440.2,276.2 448.5,274.4 454.7,272.7 462.4,268.3 468.4,257.1 485.6,244.1 490.9,233.0" fill="none" stroke="#b0173a" stroke-width="1.3" stroke-linejoin="round"/>
<circle cx="440.2" cy="276.2" r="1.5" fill="#b0173a"/>
<circle cx="448.5" cy="274.4" r="1.5" fill="#b0173a"/>
<circle cx="454.7" cy="272.7" r="1.5" fill="#b0173a"/>
<circle cx="462.4" cy="268.3" r="1.5" fill="#b0173a"/>
<circle cx="468.4" cy="257.1" r="1.5" fill="#b0173a"/>
<circle cx="485.6" cy="244.1" r="1.5" fill="#b0173a"/>
<circle cx="490.9" cy="233.0" r="1.5" fill="#b0173a"/>
<line x1="197" y1="310" x2="211" y2="310" stroke="#b5b5b5" stroke-width="1.1"/>
<circle cx="204.0" cy="310" r="1.6" fill="#b5b5b5"/>
<text x="213.5" y="312.4" font-size="7" fill="#222" text-anchor="start" font-weight="normal" >vehicle</text>
<line x1="237.7" y1="310" x2="252.5" y2="310" stroke="#b0173a" stroke-width="1.1"/>
<circle cx="245.1" cy="310" r="1.6" fill="#b0173a"/>
<text x="256.5" y="312.4" font-size="7" fill="#222" text-anchor="start" font-weight="normal" >SM</text>
<line x1="273.8" y1="310" x2="287.8" y2="310" stroke="#3fa545" stroke-width="1.1"/>
<circle cx="280.8" cy="310" r="1.6" fill="#3fa545"/>
<text x="290.5" y="312.4" font-size="7" fill="#222" text-anchor="start" font-weight="normal" >Mo</text>
<line x1="306.7" y1="310" x2="321" y2="310" stroke="#1a3f78" stroke-width="1.1"/>
<circle cx="313.9" cy="310" r="1.6" fill="#1a3f78"/>
<text x="323.7" y="312.4" font-size="7" fill="#222" text-anchor="start" font-weight="normal" >SM + Mo</text>
<text x="7" y="340" font-size="11.5" font-weight="bold" fill="#111">C</text>
<line x1="37" y1="358.0" x2="37" y2="459.5" stroke="#111" stroke-width="0.9"/>
<line x1="36.5" y1="459" x2="207.9" y2="459" stroke="#111" stroke-width="0.9"/>
<line x1="34.2" y1="459.0" x2="37" y2="459.0" stroke="#111" stroke-width="0.8"/>
<text x="31.0" y="461.6" font-size="7.2" fill="#222" text-anchor="end" font-weight="normal" textLength="3.35" lengthAdjust="spacingAndGlyphs" >0</text>
<line x1="34.2" y1="434.2" x2="37" y2="434.2" stroke="#111" stroke-width="0.8"/>
<text x="31.0" y="436.9" font-size="7.2" fill="#222" text-anchor="end" font-weight="normal" textLength="6.7" lengthAdjust="spacingAndGlyphs" >25</text>
<line x1="34.2" y1="409.5" x2="37" y2="409.5" stroke="#111" stroke-width="0.8"/>
<text x="31.0" y="412.1" font-size="7.2" fill="#222" text-anchor="end" font-weight="normal" textLength="6.7" lengthAdjust="spacingAndGlyphs" >50</text>
<line x1="34.2" y1="384.8" x2="37" y2="384.8" stroke="#111" stroke-width="0.8"/>
<text x="31.0" y="387.4" font-size="7.2" fill="#222" text-anchor="end" font-weight="normal" textLength="6.7" lengthAdjust="spacingAndGlyphs" >75</text>
<line x1="34.2" y1="360.0" x2="37" y2="360.0" stroke="#111" stroke-width="0.8"/>
<text x="31.0" y="362.6" font-size="7.2" fill="#222" text-anchor="end" font-weight="normal" textLength="10.05" lengthAdjust="spacingAndGlyphs" >100</text>
<line x1="37.0" y1="459" x2="37.0" y2="461.6" stroke="#111" stroke-width="0.8"/>
<line x1="51.2" y1="459" x2="51.2" y2="460.6" stroke="#111" stroke-width="0.8"/>
<line x1="65.4" y1="459" x2="65.4" y2="461.6" stroke="#111" stroke-width="0.8"/>
<line x1="79.6" y1="459" x2="79.6" y2="460.6" stroke="#111" stroke-width="0.8"/>
<line x1="93.8" y1="459" x2="93.8" y2="461.6" stroke="#111" stroke-width="0.8"/>
<line x1="108.0" y1="459" x2="108.0" y2="460.6" stroke="#111" stroke-width="0.8"/>
<line x1="122.2" y1="459" x2="122.2" y2="461.6" stroke="#111" stroke-width="0.8"/>
<line x1="136.4" y1="459" x2="136.4" y2="460.6" stroke="#111" stroke-width="0.8"/>
<line x1="150.6" y1="459" x2="150.6" y2="461.6" stroke="#111" stroke-width="0.8"/>
<line x1="164.8" y1="459" x2="164.8" y2="460.6" stroke="#111" stroke-width="0.8"/>
<line x1="179.0" y1="459" x2="179.0" y2="461.6" stroke="#111" stroke-width="0.8"/>
<line x1="193.2" y1="459" x2="193.2" y2="460.6" stroke="#111" stroke-width="0.8"/>
<line x1="207.4" y1="459" x2="207.4" y2="461.6" stroke="#111" stroke-width="0.8"/>
<text x="37.0" y="471.4" font-size="7" fill="#222" text-anchor="middle" font-weight="normal" textLength="3.3" lengthAdjust="spacingAndGlyphs" >0</text>
<text x="65.4" y="471.4" font-size="7" fill="#222" text-anchor="middle" font-weight="normal" textLength="3.3" lengthAdjust="spacingAndGlyphs" >5</text>
<text x="93.8" y="471.4" font-size="7" fill="#222" text-anchor="middle" font-weight="normal" textLength="6.4" lengthAdjust="spacingAndGlyphs" >10</text>
<text x="122.2" y="471.4" font-size="7" fill="#222" text-anchor="middle" font-weight="normal" textLength="6.4" lengthAdjust="spacingAndGlyphs" >15</text>
<text x="150.6" y="471.4" font-size="7" fill="#222" text-anchor="middle" font-weight="normal" textLength="6.4" lengthAdjust="spacingAndGlyphs" >20</text>
<text x="179.0" y="471.4" font-size="7" fill="#222" text-anchor="middle" font-weight="normal" textLength="6.4" lengthAdjust="spacingAndGlyphs" >25</text>
<text x="207.4" y="471.4" font-size="7" fill="#222" text-anchor="middle" font-weight="normal" textLength="6.4" lengthAdjust="spacingAndGlyphs" >30</text>
<text transform="translate(14.4,409) rotate(-90)" font-size="7.8" fill="#222" text-anchor="middle" textLength="32" lengthAdjust="spacingAndGlyphs">Probability</text>
<line x1="35.4" y1="446.6" x2="37" y2="446.6" stroke="#111" stroke-width="0.7"/>
<line x1="35.4" y1="421.9" x2="37" y2="421.9" stroke="#111" stroke-width="0.7"/>
<line x1="35.4" y1="397.1" x2="37" y2="397.1" stroke="#111" stroke-width="0.7"/>
<line x1="35.4" y1="372.4" x2="37" y2="372.4" stroke="#111" stroke-width="0.7"/>
<text x="123.0" y="483.4" font-size="8.6" fill="#222" text-anchor="middle" font-weight="normal" textLength="166" lengthAdjust="spacingAndGlyphs" >&#916; Time to vehicle (days) to reach all progression of 20%</text>
<path d="M37.0,360.0 H105.2 V384.8 H139.2 V409.5 H144.9 V421.9 H150.6 V434.2 H162.0 V446.6 H190.4 V459.0" fill="none" stroke="#3a62a0" stroke-width="1.25"/>
<path d="M37.0,360.0 H54.0 V372.4 H59.7 V384.8 H71.1 V397.1 H93.8 V409.5 H122.2 V421.9 H133.6 V434.2 H139.2 V446.6 H144.9 V459.0" fill="none" stroke="#cc3552" stroke-width="1.25"/>
<path d="M37.0,360.0 H37.0 V409.5 H42.7 V446.6 H82.4 V459.0" fill="none" stroke="#5cb24c" stroke-width="1.25"/>
<line x1="213.5" y1="361" x2="227.3" y2="361" stroke="#cc3552" stroke-width="1"/>
<text x="230.3" y="363.5" font-size="7" fill="#222" text-anchor="start" font-weight="normal" >SM</text>
<line x1="213.5" y1="371" x2="227.3" y2="371" stroke="#5cb24c" stroke-width="1"/>
<text x="230.3" y="373.5" font-size="7" fill="#222" text-anchor="start" font-weight="normal" >Mo</text>
<line x1="213.5" y1="381" x2="227.3" y2="381" stroke="#3a62a0" stroke-width="1"/>
<text x="230.3" y="383.5" font-size="7" fill="#222" text-anchor="start" font-weight="normal" >SM + Mo</text>
<line x1="260.4" y1="371.2" x2="260.4" y2="381.4" stroke="#222" stroke-width="0.8"/>
<line x1="268.8" y1="361.5" x2="268.8" y2="381.4" stroke="#222" stroke-width="0.8"/>
<circle cx="263.8" cy="372.5" r="0.7" fill="#222"/>
<circle cx="263.8" cy="375.2" r="0.7" fill="#222"/>
<circle cx="263.8" cy="377.9" r="0.7" fill="#222"/>
<circle cx="263.8" cy="380.6" r="0.7" fill="#222"/>
<circle cx="272.5" cy="371" r="0.7" fill="#222"/>
<text x="299.5" y="340" font-size="11.5" font-weight="bold" fill="#111">D</text>
<line x1="328.5" y1="357.7" x2="328.5" y2="459.8" stroke="#111" stroke-width="1.1"/>
<line x1="328.0" y1="459.3" x2="455.7" y2="459.3" stroke="#111" stroke-width="1.1"/>
<line x1="328.5" y1="426.5" x2="456" y2="426.5" stroke="#999" stroke-width="0.5"/>
<line x1="325.7" y1="459.3" x2="328.5" y2="459.3" stroke="#111" stroke-width="0.8"/>
<text x="322.5" y="461.9" font-size="7.2" fill="#222" text-anchor="end" font-weight="normal" textLength="10.8" lengthAdjust="spacingAndGlyphs" >&#8722;50</text>
<line x1="325.7" y1="442.9" x2="328.5" y2="442.9" stroke="#111" stroke-width="0.8"/>
<text x="322.5" y="445.5" font-size="7.2" fill="#222" text-anchor="end" font-weight="normal" textLength="10.8" lengthAdjust="spacingAndGlyphs" >&#8722;25</text>
<line x1="325.7" y1="426.5" x2="328.5" y2="426.5" stroke="#111" stroke-width="0.8"/>
<text x="322.5" y="429.1" font-size="7.2" fill="#222" text-anchor="end" font-weight="normal" textLength="3.6" lengthAdjust="spacingAndGlyphs" >0</text>
<line x1="325.7" y1="410.1" x2="328.5" y2="410.1" stroke="#111" stroke-width="0.8"/>
<text x="322.5" y="412.7" font-size="7.2" fill="#222" text-anchor="end" font-weight="normal" textLength="7.2" lengthAdjust="spacingAndGlyphs" >25</text>
<line x1="325.7" y1="393.7" x2="328.5" y2="393.7" stroke="#111" stroke-width="0.8"/>
<text x="322.5" y="396.3" font-size="7.2" fill="#222" text-anchor="end" font-weight="normal" textLength="7.2" lengthAdjust="spacingAndGlyphs" >50</text>
<line x1="325.7" y1="377.3" x2="328.5" y2="377.3" stroke="#111" stroke-width="0.8"/>
<text x="322.5" y="379.9" font-size="7.2" fill="#222" text-anchor="end" font-weight="normal" textLength="7.2" lengthAdjust="spacingAndGlyphs" >75</text>
<line x1="325.7" y1="360.9" x2="328.5" y2="360.9" stroke="#111" stroke-width="0.8"/>
<text x="322.5" y="363.5" font-size="7.2" fill="#222" text-anchor="end" font-weight="normal" textLength="10.8" lengthAdjust="spacingAndGlyphs" >100</text>
<line x1="357.6" y1="459.3" x2="357.6" y2="461.8" stroke="#111" stroke-width="0.8"/>
<line x1="392.2" y1="459.3" x2="392.2" y2="461.8" stroke="#111" stroke-width="0.8"/>
<line x1="426.9" y1="459.3" x2="426.9" y2="461.8" stroke="#111" stroke-width="0.8"/>
<text x="357.6" y="471.0" font-size="7" fill="#222" text-anchor="middle" font-weight="normal" textLength="9.6" lengthAdjust="spacingAndGlyphs" >Mo</text>
<text x="392.2" y="471.0" font-size="7" fill="#222" text-anchor="middle" font-weight="normal" textLength="10.2" lengthAdjust="spacingAndGlyphs" >SM</text>
<text x="427.3" y="471.0" font-size="7" fill="#222" text-anchor="middle" font-weight="normal" textLength="27.7" lengthAdjust="spacingAndGlyphs" >SM + Mo</text>
<text transform="translate(306.2,409.1) rotate(-90)" font-size="7.8" fill="#222" text-anchor="middle" textLength="79" lengthAdjust="spacingAndGlyphs">Progression difference (%)</text>
<polyline points="357.6,424.5 392.2,377.3 426.9,370.4" fill="none" stroke="#222" stroke-width="0.8"/>
<polyline points="357.6,422.6 392.2,379.3 426.9,373.4" fill="none" stroke="#222" stroke-width="0.8"/>
<polyline points="357.6,414.0 392.2,391.7 426.9,391.1" fill="none" stroke="#222" stroke-width="0.8"/>
<polyline points="357.6,457.3 392.2,402.9 426.9,385.2" fill="none" stroke="#222" stroke-width="0.8"/>
<polyline points="357.6,419.3 392.2,399.9 426.9,396.5" fill="none" stroke="#222" stroke-width="0.8"/>
<polyline points="357.6,424.6 392.2,407.8 426.9,397.6" fill="none" stroke="#222" stroke-width="0.8"/>
<polyline points="357.6,436.6 392.2,423.0 426.9,406.2" fill="none" stroke="#222" stroke-width="0.8"/>
<polyline points="357.6,427.0 392.2,413.4 426.9,403.5" fill="none" stroke="#222" stroke-width="0.8"/>
<circle cx="357.6" cy="424.5" r="2.6" fill="#4a9a4c" stroke="#2e6e32" stroke-width="0.5"/>
<circle cx="392.2" cy="377.3" r="2.6" fill="#a5182f" stroke="#7a1024" stroke-width="0.5"/>
<circle cx="426.9" cy="370.4" r="2.6" fill="#1f4679" stroke="#142f55" stroke-width="0.5"/>
<circle cx="357.6" cy="422.6" r="2.6" fill="#4a9a4c" stroke="#2e6e32" stroke-width="0.5"/>
<circle cx="392.2" cy="379.3" r="2.6" fill="#a5182f" stroke="#7a1024" stroke-width="0.5"/>
<circle cx="426.9" cy="373.4" r="2.6" fill="#1f4679" stroke="#142f55" stroke-width="0.5"/>
<circle cx="357.6" cy="414.0" r="2.6" fill="#4a9a4c" stroke="#2e6e32" stroke-width="0.5"/>
<circle cx="392.2" cy="391.7" r="2.6" fill="#a5182f" stroke="#7a1024" stroke-width="0.5"/>
<circle cx="426.9" cy="391.1" r="2.6" fill="#1f4679" stroke="#142f55" stroke-width="0.5"/>
<circle cx="357.6" cy="457.3" r="2.6" fill="#4a9a4c" stroke="#2e6e32" stroke-width="0.5"/>
<circle cx="392.2" cy="402.9" r="2.6" fill="#a5182f" stroke="#7a1024" stroke-width="0.5"/>
<circle cx="426.9" cy="385.2" r="2.6" fill="#1f4679" stroke="#142f55" stroke-width="0.5"/>
<circle cx="357.6" cy="419.3" r="2.6" fill="#4a9a4c" stroke="#2e6e32" stroke-width="0.5"/>
<circle cx="392.2" cy="399.9" r="2.6" fill="#a5182f" stroke="#7a1024" stroke-width="0.5"/>
<circle cx="426.9" cy="396.5" r="2.6" fill="#1f4679" stroke="#142f55" stroke-width="0.5"/>
<circle cx="357.6" cy="424.6" r="2.6" fill="#4a9a4c" stroke="#2e6e32" stroke-width="0.5"/>
<circle cx="392.2" cy="407.8" r="2.6" fill="#a5182f" stroke="#7a1024" stroke-width="0.5"/>
<circle cx="426.9" cy="397.6" r="2.6" fill="#1f4679" stroke="#142f55" stroke-width="0.5"/>
<circle cx="357.6" cy="436.6" r="2.6" fill="#4a9a4c" stroke="#2e6e32" stroke-width="0.5"/>
<circle cx="392.2" cy="423.0" r="2.6" fill="#a5182f" stroke="#7a1024" stroke-width="0.5"/>
<circle cx="426.9" cy="406.2" r="2.6" fill="#1f4679" stroke="#142f55" stroke-width="0.5"/>
<circle cx="357.6" cy="427.0" r="2.6" fill="#4a9a4c" stroke="#2e6e32" stroke-width="0.5"/>
<circle cx="392.2" cy="413.4" r="2.6" fill="#a5182f" stroke="#7a1024" stroke-width="0.5"/>
<circle cx="426.9" cy="403.5" r="2.6" fill="#1f4679" stroke="#142f55" stroke-width="0.5"/>
<line x1="357.7" y1="360.4" x2="427.5" y2="360.4" stroke="#222" stroke-width="1"/>
<line x1="389.6" y1="348.3" x2="427.5" y2="348.3" stroke="#222" stroke-width="1"/>
<circle cx="391.1" cy="357" r="0.8" fill="#333"/><circle cx="393.5" cy="357" r="0.8" fill="#333"/>
<circle cx="407.1" cy="344.4" r="0.8" fill="#333"/><circle cx="409.5" cy="344.4" r="0.8" fill="#333"/>
<text x="7" y="510.5" font-size="11.5" font-weight="bold" fill="#111">E</text>
<path d="M236,537 C262,539 281,554 287,575 C290,590 290,605 288,622 L271,622 C273,605 273,592 270,581 C265,566 255,557 240,552 z" fill="#d3e1f2"/>
<defs><linearGradient id="gg" x1="0" y1="0" x2="0" y2="1"><stop offset="0" stop-color="#eef6ea" stop-opacity="0"/><stop offset="0.12" stop-color="#eef6ea" stop-opacity="0.6"/><stop offset="0.4" stop-color="#e5f1e0"/><stop offset="1" stop-color="#d9ebd3"/></linearGradient><linearGradient id="pg" x1="0" y1="0" x2="0" y2="1"><stop offset="0" stop-color="#f8e4e7" stop-opacity="0"/><stop offset="0.12" stop-color="#f8e4e7" stop-opacity="0.6"/><stop offset="0.4" stop-color="#f5d9de"/><stop offset="1" stop-color="#efccd4"/></linearGradient><linearGradient id="bandg" x1="0" y1="0" x2="1" y2="0"><stop offset="0" stop-color="#eef0f3"/><stop offset="0.2" stop-color="#e2e7ed"/><stop offset="0.45" stop-color="#d2d9e3"/><stop offset="0.75" stop-color="#bcc7d6"/><stop offset="1" stop-color="#a6b5c9"/></linearGradient></defs>
<rect x="303" y="500" width="57.5" height="120" fill="url(#gg)"/>
<rect x="360.5" y="500" width="53.3" height="114" fill="url(#pg)"/>
<polygon points="165,624 235,623 300,619.6 428,612.9 430,656 300,651.5 235,656 165,646" fill="url(#bandg)"/>
<circle cx="32.5" cy="607.5" r="9.5" fill="#bfd4ee" stroke="#fff" stroke-width="0.8"/>
<path d="M25.9,611.8 A8.1,8.1 0 0 0 37.2,614.6" stroke="#fff" stroke-width="0.6" fill="none" opacity="0.8"/>
<circle cx="46.5" cy="625.5" r="10" fill="#bfd4ee" stroke="#fff" stroke-width="0.8"/>
<path d="M39.5,630.0 A8.5,8.5 0 0 0 51.5,633.0" stroke="#fff" stroke-width="0.6" fill="none" opacity="0.8"/>
<circle cx="27" cy="631" r="10" fill="#bfd4ee" stroke="#fff" stroke-width="0.8"/>
<path d="M20.0,635.5 A8.5,8.5 0 0 0 32.0,638.5" stroke="#fff" stroke-width="0.6" fill="none" opacity="0.8"/>
<circle cx="35" cy="657.5" r="11" fill="#bfd4ee" stroke="#fff" stroke-width="0.8"/>
<path d="M27.3,662.5 A9.3,9.3 0 0 0 40.5,665.8" stroke="#fff" stroke-width="0.6" fill="none" opacity="0.8"/>
<circle cx="51" cy="659" r="10" fill="#bfd4ee" stroke="#fff" stroke-width="0.8"/>
<path d="M44.0,663.5 A8.5,8.5 0 0 0 56.0,666.5" stroke="#fff" stroke-width="0.6" fill="none" opacity="0.8"/>
<rect x="28" y="637.4" width="28.8" height="11.5" fill="#e2e2e0" stroke="#c8c8c8" stroke-width="0.5"/>
<text x="41.6" y="645.3" font-size="6.8" fill="#2a2a2a" text-anchor="middle" font-weight="normal" textLength="11" lengthAdjust="spacingAndGlyphs" >ALL</text>
<path d="M80.79,616.18 A23.1,23.1 0 1 1 66.45,624.46 L70.96,628.11 A17.3,17.3 0 1 0 81.69,621.91 z" fill="#c9d9ee"/>
<text x="85.0" y="641.3" font-size="6.8" fill="#333" text-anchor="middle" font-weight="normal" textLength="16.2" lengthAdjust="spacingAndGlyphs" >RIPK1</text>
<polygon points="67.7,617.7 74,615.2 79.8,624.6 75.8,626.9" fill="#5d6e82"/>
<circle cx="73.5" cy="618.6" r="1.1" fill="#111"/>
<polyline points="73.5,618.6 82.5,596 89.8,596" fill="none" stroke="#333" stroke-width="0.7"/>
<circle cx="75.8" cy="658" r="1.1" fill="#111"/>
<polyline points="75.8,658 82.5,682.5 96,682.5" fill="none" stroke="#333" stroke-width="0.7"/>
<rect x="89.3" y="586.7" width="40.7" height="20.1" fill="#fff" stroke="#555" stroke-width="0.8"/>
<text x="108.8" y="594.3" font-size="6.8" fill="#2a2a2a" text-anchor="middle" font-weight="normal" textLength="15.8" lengthAdjust="spacingAndGlyphs" >death</text>
<text x="108.1" y="601.8" font-size="6.8" fill="#2a2a2a" text-anchor="middle" font-weight="normal" textLength="26" lengthAdjust="spacingAndGlyphs" >signaling</text>
<rect x="96.2" y="672.2" width="37.4" height="20.5" fill="#fff" stroke="#555" stroke-width="0.8"/>
<text x="115.1" y="680.0" font-size="6.8" fill="#2a2a2a" text-anchor="middle" font-weight="normal" textLength="21.2" lengthAdjust="spacingAndGlyphs" >survival</text>
<text x="114.8" y="686.9" font-size="6.8" fill="#2a2a2a" text-anchor="middle" font-weight="normal" textLength="25.3" lengthAdjust="spacingAndGlyphs" >signaling</text>
<rect x="113" y="620.8" width="64.9" height="12.7" fill="#e6e6e6" stroke="#d0d0d0" stroke-width="0.5"/>
<text x="143.0" y="629.0" font-size="6.8" fill="#2a2a2a" text-anchor="middle" font-weight="normal" textLength="46.5" lengthAdjust="spacingAndGlyphs" >SMAC mimetics</text>
<g transform="translate(145.5,640) rotate(12)"><rect x="-16" y="-5.5" width="32" height="11" rx="5.5" fill="#d5dbe4"/><path d="M0,-5.5 H-10.5 A5.5,5.5 0 0 0 -10.5,5.5 H0 z" fill="#6b8fc9"/></g>
<circle cx="206.9" cy="642.7" r="14" fill="#fff"/>
<path d="M185.18,657.35 A26.2,26.2 0 1 1 213.24,668.12 L210.29,656.28 A14,14 0 1 0 195.29,650.53 z" fill="#75869f"/>
<path d="M210.46,662.89 A20.5,20.5 0 0 1 190.75,655.32 L195.08,651.93 A15,15 0 0 0 209.50,657.47 z" fill="#cbd8ec"/>
<polyline points="129.2,596 183,596 195.8,625.3" fill="none" stroke="#333" stroke-width="0.7"/>
<polyline points="133,682.5 189.2,682.5 198.9,662.7" fill="none" stroke="#333" stroke-width="0.7"/>
<circle cx="195.8" cy="625.3" r="1.2" fill="#111"/><circle cx="198.9" cy="662.7" r="1.2" fill="#111"/>
<text x="207.3" y="644.7" font-size="6.8" fill="#333" text-anchor="middle" font-weight="normal" textLength="16.9" lengthAdjust="spacingAndGlyphs" >RIPK1</text>
<circle cx="228.5" cy="523" r="10.5" fill="#bfd4ee" stroke="#fff" stroke-width="0.8"/>
<path d="M221.2,527.7 A8.9,8.9 0 0 0 233.8,530.9" stroke="#fff" stroke-width="0.6" fill="none" opacity="0.8"/>
<circle cx="252.2" cy="529" r="9.5" fill="#bfd4ee" stroke="#fff" stroke-width="0.8"/>
<path d="M245.5,533.3 A8.1,8.1 0 0 0 256.9,536.1" stroke="#fff" stroke-width="0.6" fill="none" opacity="0.8"/>
<circle cx="205" cy="546" r="10.5" fill="#bfd4ee" stroke="#fff" stroke-width="0.8"/>
<path d="M197.7,550.7 A8.9,8.9 0 0 0 210.2,553.9" stroke="#fff" stroke-width="0.6" fill="none" opacity="0.8"/>
<circle cx="228" cy="541.7" r="10" fill="#bfd4ee" stroke="#fff" stroke-width="0.8"/>
<path d="M221.0,546.2 A8.5,8.5 0 0 0 233.0,549.2" stroke="#fff" stroke-width="0.6" fill="none" opacity="0.8"/>
<circle cx="238" cy="558" r="10" fill="#bfd4ee" stroke="#fff" stroke-width="0.8"/>
<path d="M231.0,562.5 A8.5,8.5 0 0 0 243.0,565.5" stroke="#fff" stroke-width="0.6" fill="none" opacity="0.8"/>
<rect x="242.3" y="540.7" width="28.9" height="10.7" fill="#e2e2e2" stroke="#cfcfcf" stroke-width="0.5"/>
<text x="257.4" y="548.3" font-size="6.8" fill="#2a2a2a" text-anchor="middle" font-weight="normal" textLength="20.3" lengthAdjust="spacingAndGlyphs" >Rescue</text>
<rect x="261.4" y="576" width="36.4" height="11.8" fill="#e2e2e2" stroke="#cfcfcf" stroke-width="0.5"/>
<text x="280.1" y="583.8" font-size="6.8" fill="#2a2a2a" text-anchor="middle" font-weight="normal" textLength="19.1" lengthAdjust="spacingAndGlyphs" >dCBP1</text>
<g transform="translate(280.5,592) rotate(-12)"><rect x="-10.5" y="-3.8" width="21" height="7.6" rx="3.8" fill="#dcdde1"/><path d="M0,-3.8 H-6.7 A3.8,3.8 0 0 0 -6.7,3.8 H0 z" fill="#d94c75"/></g>
<ellipse cx="254.1" cy="619.7" rx="4.2" ry="2.8" fill="#d4dae3" transform="rotate(172 254.1 619.7)"/>
<ellipse cx="269.2" cy="607.9" rx="4.2" ry="2.8" fill="#d4dae3" transform="rotate(292 269.2 607.9)"/>
<ellipse cx="271.7" cy="626.8" rx="4.2" ry="2.8" fill="#d4dae3" transform="rotate(413 271.7 626.8)"/>
<circle cx="254.2" cy="615.2" r="1.0" fill="#7a8aa3"/>
<circle cx="268.2" cy="607.4" r="1.0" fill="#7a8aa3"/>
<circle cx="275.6" cy="621.6" r="1.0" fill="#7a8aa3"/>
<circle cx="261.2" cy="628.6" r="1.0" fill="#7a8aa3"/>
<polygon points="275.7,618.1 274.4,619.1 275.9,620.4 276.2,621.7 275.0,622.6 274.6,623.7 272.7,623.7 272.7,625.0 272.9,626.8 271.5,627.1 270.7,628.0 269.0,627.2 268.0,627.4 267.4,629.3 266.2,629.2 265.0,629.7 263.9,628.6 263.0,627.3 261.6,628.6 260.5,628.2 259.2,628.1 258.3,627.3 258.7,625.1 257.2,625.1 256.2,624.5 255.2,623.8 254.1,622.9 255.7,621.1 255.1,620.2 254.3,619.2 254.1,618.1 252.9,616.8 254.8,615.9 255.6,615.1 255.3,613.8 255.9,612.9 255.2,611.0 256.7,610.6 258.4,610.8 258.8,609.6 259.9,609.3 260.3,607.4 261.3,606.8 262.9,608.2 263.9,607.7 265.0,608.1 266.2,607.2 267.5,606.2 268.3,608.1 269.3,608.5 270.0,609.4 271.0,609.8 273.2,609.0 273.2,610.7 273.6,611.8 273.9,613.0 273.9,614.2 276.2,614.5 276.3,615.7 275.8,617.0" fill="#8899b4" opacity="0.45"/>
<polygon points="274.8,618.1 275.6,619.5 273.4,620.3 273.5,621.6 273.7,623.1 272.6,623.9 272.0,625.1 270.7,625.5 269.7,626.3 268.8,627.2 267.6,627.7 266.2,627.5 265.0,627.8 263.8,626.9 262.6,626.9 260.8,628.3 260.2,626.5 259.3,625.6 258.4,624.7 258.0,623.5 256.5,623.0 255.5,622.0 255.3,620.7 255.7,619.3 255.8,618.1 255.9,616.9 255.0,615.4 255.9,614.4 257.2,613.6 256.9,611.9 258.5,611.6 259.1,610.4 259.8,609.1 261.5,609.6 262.7,609.4 263.8,608.7 265.0,608.0 266.3,608.0 267.6,608.6 268.3,610.0 269.7,610.0 270.8,610.5 271.8,611.3 273.7,611.4 273.0,613.5 273.1,614.8 274.4,615.6 274.5,616.8" fill="#8899b4"/>
<path d="M261.5,617.1 q2.0,-4.0 5.0,-1.5 q2.0,3.5 -1.0,5.0" stroke="#71829d" stroke-width="1.00" fill="none"/>
<circle cx="266.0" cy="619.6" r="1.6" fill="#76879f"/>
<ellipse cx="264.4" cy="648.6" rx="4.4" ry="2.9" fill="#d4dae3" transform="rotate(395 264.4 648.6)"/>
<ellipse cx="244.5" cy="646.7" rx="4.4" ry="2.9" fill="#d4dae3" transform="rotate(516 244.5 646.7)"/>
<ellipse cx="256.2" cy="630.4" rx="4.4" ry="2.9" fill="#d4dae3" transform="rotate(636 256.2 630.4)"/>
<circle cx="247.9" cy="651.3" r="1.1" fill="#7a8aa3"/>
<circle cx="245.8" cy="634.5" r="1.1" fill="#7a8aa3"/>
<circle cx="262.6" cy="632.9" r="1.1" fill="#7a8aa3"/>
<circle cx="263.7" cy="649.8" r="1.1" fill="#7a8aa3"/>
<polygon points="265.2,641.9 265.9,643.0 265.6,644.2 266.3,645.6 266.6,647.1 264.2,647.2 263.7,648.3 263.0,649.1 262.5,650.2 262.6,652.3 260.7,651.7 259.4,651.8 258.3,652.2 257.2,652.2 256.3,654.5 255.0,653.9 253.9,652.8 252.7,652.7 251.9,651.6 250.1,652.9 248.8,652.7 248.4,650.9 247.4,650.3 247.5,648.6 245.9,648.5 244.1,648.2 244.5,646.6 244.0,645.5 244.9,644.0 244.6,643.0 242.5,641.9 243.4,640.7 243.4,639.4 244.7,638.6 245.9,637.9 244.6,635.9 245.4,634.9 246.1,633.9 247.3,633.4 249.3,634.0 249.3,632.1 250.2,631.0 251.3,630.6 252.5,630.1 254.0,631.9 255.0,631.2 256.2,630.2 257.4,630.5 258.9,630.0 259.3,632.2 260.1,633.0 261.8,632.6 262.6,633.4 264.4,633.4 264.2,635.2 263.7,636.9 265.3,637.3 265.5,638.5 267.1,639.3 267.1,640.6" fill="#8899b4" opacity="0.45"/>
<polygon points="264.7,641.9 264.4,643.1 265.3,644.7 264.7,645.9 263.2,646.6 262.8,647.9 262.4,649.3 261.1,649.8 260.4,651.3 258.8,651.0 257.4,650.9 256.3,651.8 255.0,651.7 253.5,653.1 252.3,652.1 251.5,650.4 250.2,650.2 248.8,650.0 247.9,649.0 246.5,648.4 245.7,647.3 246.6,645.4 245.2,644.5 244.9,643.2 244.8,641.9 244.6,640.5 246.0,639.5 245.5,638.0 245.9,636.6 247.0,635.7 247.7,634.6 248.9,634.0 250.5,634.1 251.1,632.6 252.0,630.8 253.7,632.0 255.0,631.8 256.2,632.5 257.4,632.8 259.1,632.0 260.2,632.9 261.5,633.5 262.0,634.9 262.4,636.2 263.7,636.9 265.0,637.7 264.5,639.4 264.6,640.6" fill="#8899b4"/>
<path d="M251.3,640.9 q2.1,-4.2 5.2,-1.6 q2.1,3.7 -1.1,5.2" stroke="#71829d" stroke-width="1.05" fill="none"/>
<circle cx="256.1" cy="643.5" r="1.7" fill="#76879f"/>
<ellipse cx="288.1" cy="633.6" rx="4.4" ry="2.9" fill="#d4dae3" transform="rotate(246 288.1 633.6)"/>
<ellipse cx="304.2" cy="645.5" rx="4.4" ry="2.9" fill="#d4dae3" transform="rotate(367 304.2 645.5)"/>
<ellipse cx="285.7" cy="653.4" rx="4.4" ry="2.9" fill="#d4dae3" transform="rotate(487 285.7 653.4)"/>
<circle cx="297.1" cy="633.3" r="1.1" fill="#7a8aa3"/>
<circle cx="303.5" cy="649.0" r="1.1" fill="#7a8aa3"/>
<circle cx="287.6" cy="654.8" r="1.1" fill="#7a8aa3"/>
<circle cx="282.2" cy="638.8" r="1.1" fill="#7a8aa3"/>
<polygon points="303.9,644.2 304.2,645.4 305.2,646.9 303.0,647.6 302.3,648.5 302.3,649.7 301.6,650.7 302.2,652.8 300.5,652.8 298.9,652.7 298.2,653.7 297.0,653.9 296.5,656.0 295.3,656.2 293.8,654.8 292.7,655.3 291.6,654.5 290.3,655.7 288.8,656.3 288.2,654.3 287.1,653.9 286.6,652.6 285.4,652.3 283.2,652.8 283.4,651.0 282.9,649.9 283.0,648.5 283.0,647.4 280.5,646.8 280.8,645.4 281.2,644.2 281.7,643.0 283.1,642.2 281.5,640.5 281.6,639.2 282.6,638.4 283.3,637.4 285.4,637.6 285.3,636.0 285.5,634.3 286.9,634.1 287.8,633.1 289.5,634.4 290.5,634.0 291.4,632.3 292.7,632.6 294.0,631.9 295.0,633.5 295.8,634.7 297.4,633.6 298.4,634.2 300.0,634.2 300.6,635.5 300.1,637.6 301.7,637.6 302.5,638.5 303.7,639.3 304.5,640.4 302.7,642.1 303.4,643.1" fill="#8899b4" opacity="0.45"/>
<polygon points="302.9,644.2 301.7,645.4 302.2,646.8 302.0,648.1 301.5,649.3 301.8,651.2 299.4,650.9 298.3,651.5 297.9,653.1 296.6,653.6 295.4,654.2 294.0,654.3 292.7,654.1 291.4,653.9 290.0,654.4 288.8,653.5 287.6,653.1 286.8,651.9 286.2,650.7 283.7,651.1 283.6,649.4 283.5,648.0 283.0,646.8 283.5,645.4 283.0,644.2 282.0,642.8 282.2,641.4 283.6,640.4 284.2,639.3 285.3,638.5 285.3,636.8 286.2,635.7 287.9,635.9 288.6,634.4 290.2,634.9 291.4,634.5 292.7,633.3 294.0,634.1 295.1,635.1 296.5,635.1 297.9,635.1 299.0,636.0 300.3,636.6 300.2,638.4 300.9,639.5 302.0,640.4 302.2,641.6 304.1,642.7" fill="#8899b4"/>
<path d="M289.0,643.2 q2.1,-4.2 5.2,-1.6 q2.1,3.7 -1.1,5.2" stroke="#71829d" stroke-width="1.05" fill="none"/>
<circle cx="293.8" cy="645.8" r="1.7" fill="#76879f"/>
<circle cx="278.8" cy="634.2" r="9.5" fill="#c8d8ee" stroke="#fff" stroke-width="0.8"/>
<path d="M272.2,638.5 A8.1,8.1 0 0 0 283.6,641.3" stroke="#fff" stroke-width="0.6" fill="none" opacity="0.8"/>
<circle cx="268" cy="655" r="8.5" fill="#c8d8ee" stroke="#fff" stroke-width="0.8"/>
<path d="M262.1,658.8 A7.2,7.2 0 0 0 272.2,661.4" stroke="#fff" stroke-width="0.6" fill="none" opacity="0.8"/>
<rect x="251.2" y="662.7" width="51.0" height="12.3" fill="#e2e2e2" stroke="#cfcfcf" stroke-width="0.5"/>
<text x="276.9" y="670.8" font-size="6.8" fill="#2a2a2a" text-anchor="middle" font-weight="normal" textLength="34.6" lengthAdjust="spacingAndGlyphs" >Necroptosis</text>
<text x="326.0" y="520.5" font-size="7" fill="#62ab62" text-anchor="middle" font-weight="normal" textLength="33" lengthAdjust="spacingAndGlyphs" >Acetylation</text>
<text x="390.6" y="512.5" font-size="7" fill="#c4404f" text-anchor="middle" font-weight="normal" textLength="39.8" lengthAdjust="spacingAndGlyphs" >Deacetylation</text>
<g stroke="#222" fill="#222"><line x1="360.5" y1="516" x2="360.5" y2="549" stroke-width="1.2"/><path d="M353,550.5 Q360.5,546 368,550.5 z" stroke-width="0.5"/><line x1="351" y1="524.5" x2="370" y2="521.5" stroke-width="1"/><line x1="351" y1="524.5" x2="348" y2="534" stroke-width="0.4"/><line x1="351" y1="524.5" x2="355.5" y2="534" stroke-width="0.4"/><line x1="370" y1="521.5" x2="366.5" y2="531" stroke-width="0.4"/><line x1="370" y1="521.5" x2="374" y2="531" stroke-width="0.4"/><path d="M347.5,534 A4.2,3 0 0 0 356,534 z" stroke-width="0.3"/><path d="M366,531 A4.2,3 0 0 0 374.5,531 z" stroke-width="0.3"/></g>
<path d="M307,560 C308,554 318,552 326,553 C335,554 339,560 338.5,567 C338,574 336,579 330,581.5 C326,583 323,580 322,577 C320,573 316,573 312,572 C307,571 306,566 307,560 z" fill="#4db3ad" stroke="#bfe6e2" stroke-width="0.6"/>
<text x="322.9" y="567.5" font-size="6.8" fill="#1f4a4a" text-anchor="middle" font-weight="normal" textLength="14.6" lengthAdjust="spacingAndGlyphs" >p300</text>
<path d="M313,590 C314,585.5 321,585 325.5,587.5 C330,585 337,585 338,590 C339,598 332,602 325,602 C318,602 312,597 313,590 z" fill="#eea85a" stroke="#f7d6ae" stroke-width="0.5"/>
<text x="326.2" y="598.1" font-size="6.8" fill="#4a3010" text-anchor="middle" font-weight="normal" textLength="10.3" lengthAdjust="spacingAndGlyphs" >SP1</text>
<ellipse cx="380.5" cy="571.8" rx="14.9" ry="10.5" fill="#e26a6e" stroke="#f3a0a2" stroke-width="0.6"/>
<text x="380.7" y="574.2" font-size="6.8" fill="#fff" text-anchor="middle" font-weight="normal" textLength="21.6" lengthAdjust="spacingAndGlyphs" >HDAC2</text>
<rect x="401" y="533.1" width="35.2" height="12.7" fill="#e2e2e2" stroke="#cfcfcf" stroke-width="0.5"/>
<text x="420.3" y="541.2" font-size="6.8" fill="#2a2a2a" text-anchor="middle" font-weight="normal" textLength="21.4" lengthAdjust="spacingAndGlyphs" >HDACi</text>
<g transform="translate(418.8,549.8) rotate(22)"><rect x="-10.5" y="-3.8" width="21" height="7.6" rx="3.8" fill="#d6d9de"/><path d="M0,-3.8 H-6.7 A3.8,3.8 0 0 0 -6.7,3.8 H0 z" fill="#4dbfbf"/></g>
<path d="M281.8,573.5 C285,563 294,557 304.6,558.8" fill="none" stroke="#222" stroke-width="1.1"/><line x1="303.5" y1="555" x2="305.7" y2="562.6" stroke="#222" stroke-width="1.1"/>
<path d="M418.3,557.3 C417,566 410,573.5 399,573.7" fill="none" stroke="#222" stroke-width="1.1"/><line x1="398.8" y1="570.2" x2="398.8" y2="577.2" stroke="#222" stroke-width="1.1"/>
<path d="M339.8,576.2 C350,580 356,592 354.6,606" fill="none" stroke="#222" stroke-width="1.1"/><path d="M351.4,602 L354.6,609.5 L357.8,602.3 z" fill="#222"/>
<path d="M382.4,586.3 C386,600 378,612 364.5,617" fill="none" stroke="#222" stroke-width="1.1"/><line x1="362.7" y1="613.2" x2="364.6" y2="621" stroke="#222" stroke-width="1.1"/>
<path d="M320.8,601.5 C320.5,610 321.5,617 324,622 L321.8,623.2 L329.6,627.8 L330.6,618.8 L328.4,620 C326.5,614 325.4,608 325,601.5 z" fill="#2f5f99"/>
<line x1="318.5" y1="630.6" x2="318.5" y2="642.7" stroke="#2f4180" stroke-width="1"/>
<line x1="322.1" y1="635.0" x2="322.1" y2="643.9" stroke="#2f4180" stroke-width="1"/>
<line x1="329.3" y1="643.8" x2="329.3" y2="635.6" stroke="#2f4180" stroke-width="1"/>
<line x1="332.9" y1="643.0" x2="332.9" y2="630.9" stroke="#2f4180" stroke-width="1"/>
<line x1="336.5" y1="638.7" x2="336.5" y2="629.7" stroke="#2f4180" stroke-width="1"/>
<line x1="343.7" y1="629.9" x2="343.7" y2="637.9" stroke="#2f4180" stroke-width="1"/>
<line x1="347.3" y1="630.5" x2="347.3" y2="642.6" stroke="#2f4180" stroke-width="1"/>
<line x1="350.9" y1="634.7" x2="350.9" y2="643.9" stroke="#2f4180" stroke-width="1"/>
<line x1="358.1" y1="643.7" x2="358.1" y2="635.9" stroke="#2f4180" stroke-width="1"/>
<line x1="361.7" y1="643.2" x2="361.7" y2="631.1" stroke="#2f4180" stroke-width="1"/>
<line x1="365.3" y1="639.0" x2="365.3" y2="629.6" stroke="#2f4180" stroke-width="1"/>
<line x1="372.5" y1="630.0" x2="372.5" y2="637.5" stroke="#2f4180" stroke-width="1"/>
<line x1="376.1" y1="630.3" x2="376.1" y2="642.4" stroke="#2f4180" stroke-width="1"/>
<line x1="379.7" y1="634.4" x2="379.7" y2="644.0" stroke="#2f4180" stroke-width="1"/>
<line x1="386.9" y1="643.6" x2="386.9" y2="636.2" stroke="#2f4180" stroke-width="1"/>
<polyline points="316.0,629.6 316.5,629.6 317.0,629.8 317.5,630.0 318.0,630.3 318.5,630.6 319.0,631.1 319.5,631.6 320.0,632.1 320.5,632.8 321.0,633.4 321.5,634.1 322.0,634.9 322.5,635.6 323.0,636.4 323.5,637.2 324.0,638.0 324.5,638.7 325.0,639.5 325.5,640.2 326.0,640.8 326.5,641.5 327.0,642.0 327.5,642.5 328.0,643.0 328.5,643.3 329.0,643.6 329.5,643.8 330.0,644.0 330.5,644.0 331.0,644.0 331.5,643.8 332.0,643.6 332.5,643.3 333.0,643.0 333.5,642.5 334.0,642.0 334.5,641.5 335.0,640.8 335.5,640.2 336.0,639.5 336.5,638.7 337.0,638.0 337.5,637.2 338.0,636.4 338.5,635.6 339.0,634.9 339.5,634.1 340.0,633.4 340.5,632.8 341.0,632.1 341.5,631.6 342.0,631.1 342.5,630.6 343.0,630.3 343.5,630.0 344.0,629.8 344.5,629.6 345.0,629.6 345.5,629.6 346.0,629.8 346.5,630.0 347.0,630.3 347.5,630.6 348.0,631.1 348.5,631.6 349.0,632.1 349.5,632.8 350.0,633.4 350.5,634.1 351.0,634.9 351.5,635.6 352.0,636.4 352.5,637.2 353.0,638.0 353.5,638.7 354.0,639.5 354.5,640.2 355.0,640.8 355.5,641.5 356.0,642.0 356.5,642.5 357.0,643.0 357.5,643.3 358.0,643.6 358.5,643.8 359.0,644.0 359.5,644.0 360.0,644.0 360.5,643.8 361.0,643.6 361.5,643.3 362.0,643.0 362.5,642.5 363.0,642.0 363.5,641.5 364.0,640.8 364.5,640.2 365.0,639.5 365.5,638.7 366.0,638.0 366.5,637.2 367.0,636.4 367.5,635.6 368.0,634.9 368.5,634.1 369.0,633.4 369.5,632.8 370.0,632.1 370.5,631.6 371.0,631.1 371.5,630.6 372.0,630.3 372.5,630.0 373.0,629.8 373.5,629.6 374.0,629.6 374.5,629.6 375.0,629.8 375.5,630.0 376.0,630.3 376.5,630.6 377.0,631.1 377.5,631.6 378.0,632.1 378.5,632.8 379.0,633.4 379.5,634.1 380.0,634.9 380.5,635.6 381.0,636.4 381.5,637.2 382.0,638.0 382.5,638.7 383.0,639.5 383.5,640.2 384.0,640.8 384.5,641.5 385.0,642.0 385.5,642.5 386.0,643.0 386.5,643.3 387.0,643.6 387.5,643.8 388.0,644.0 388.5,644.0 389.0,644.0 389.5,643.8 390.0,643.6 390.5,643.3 391.0,643.0" fill="none" stroke="#28397a" stroke-width="2.1" stroke-linecap="round"/>
<polyline points="316.0,639.8 316.5,640.5 317.0,641.1 317.5,641.7 318.0,642.3 318.5,642.7 319.0,643.1 319.5,643.5 320.0,643.7 320.5,643.9 321.0,644.0 321.5,644.0 322.0,643.9 322.5,643.7 323.0,643.5 323.5,643.2 324.0,642.8 324.5,642.3 325.0,641.8 325.5,641.2 326.0,640.5 326.5,639.9 327.0,639.1 327.5,638.4 328.0,637.6 328.5,636.8 329.0,636.1 329.5,635.3 330.0,634.5 330.5,633.8 331.0,633.1 331.5,632.5 332.0,631.9 332.5,631.3 333.0,630.9 333.5,630.5 334.0,630.1 334.5,629.9 335.0,629.7 335.5,629.6 336.0,629.6 336.5,629.7 337.0,629.9 337.5,630.1 338.0,630.4 338.5,630.8 339.0,631.3 339.5,631.8 340.0,632.4 340.5,633.1 341.0,633.7 341.5,634.5 342.0,635.2 342.5,636.0 343.0,636.8 343.5,637.5 344.0,638.3 344.5,639.1 345.0,639.8 345.5,640.5 346.0,641.1 346.5,641.7 347.0,642.3 347.5,642.7 348.0,643.1 348.5,643.5 349.0,643.7 349.5,643.9 350.0,644.0 350.5,644.0 351.0,643.9 351.5,643.7 352.0,643.5 352.5,643.2 353.0,642.8 353.5,642.3 354.0,641.8 354.5,641.2 355.0,640.5 355.5,639.9 356.0,639.1 356.5,638.4 357.0,637.6 357.5,636.8 358.0,636.1 358.5,635.3 359.0,634.5 359.5,633.8 360.0,633.1 360.5,632.5 361.0,631.9 361.5,631.3 362.0,630.9 362.5,630.5 363.0,630.1 363.5,629.9 364.0,629.7 364.5,629.6 365.0,629.6 365.5,629.7 366.0,629.9 366.5,630.1 367.0,630.4 367.5,630.8 368.0,631.3 368.5,631.8 369.0,632.4 369.5,633.1 370.0,633.7 370.5,634.5 371.0,635.2 371.5,636.0 372.0,636.8 372.5,637.5 373.0,638.3 373.5,639.1 374.0,639.8 374.5,640.5 375.0,641.1 375.5,641.7 376.0,642.3 376.5,642.7 377.0,643.1 377.5,643.5 378.0,643.7 378.5,643.9 379.0,644.0 379.5,644.0 380.0,643.9 380.5,643.7 381.0,643.5 381.5,643.2 382.0,642.8 382.5,642.3 383.0,641.8 383.5,641.2 384.0,640.5 384.5,639.9 385.0,639.1 385.5,638.4 386.0,637.6 386.5,636.8 387.0,636.1 387.5,635.3 388.0,634.5 388.5,633.8 389.0,633.1 389.5,632.5 390.0,631.9 390.5,631.3 391.0,630.9" fill="none" stroke="#28397a" stroke-width="2.1" stroke-linecap="round"/>
<circle cx="352.5" cy="622.2" r="8.8" fill="#43ad5c" stroke="#2d7a40" stroke-width="0.6"/>
<text x="352.8" y="625.0" font-size="6.8" fill="#e8f5ea" text-anchor="middle" font-weight="normal" textLength="8.6" lengthAdjust="spacingAndGlyphs" >Ac</text>
<path d="M376,630 V622.3 H386" fill="none" stroke="#4fbb7a" stroke-width="1.2"/><path d="M385,619.5 L389.5,622.3 L385,625 z" fill="#4fbb7a"/>
<rect x="336.3" y="650.1" width="66.0" height="12.4" fill="#e3e3e3" stroke="#d0d0d0" stroke-width="0.5"/>
<text x="369.6" y="657.8" font-size="6.8" fill="#2a2a2a" text-anchor="middle" font-weight="normal" textLength="49.1" lengthAdjust="spacingAndGlyphs" >Gene expression</text>
<ellipse cx="461.2" cy="618.2" rx="4.7" ry="3.1" fill="#d4dae3" transform="rotate(97 461.2 618.2)"/>
<ellipse cx="453.1" cy="598.5" rx="4.7" ry="3.1" fill="#d4dae3" transform="rotate(218 453.1 598.5)"/>
<ellipse cx="474.2" cy="601.4" rx="4.7" ry="3.1" fill="#d4dae3" transform="rotate(338 474.2 601.4)"/>
<circle cx="461.2" cy="618.4" r="1.1" fill="#7a8aa3"/>
<circle cx="450.4" cy="604.0" r="1.1" fill="#7a8aa3"/>
<circle cx="465.1" cy="593.7" r="1.1" fill="#7a8aa3"/>
<circle cx="475.1" cy="608.7" r="1.1" fill="#7a8aa3"/>
<polygon points="476.4,606.0 474.6,607.2 473.4,608.3 474.2,609.7 473.6,610.8 474.4,612.7 473.1,613.5 470.9,613.3 470.7,614.8 469.5,615.3 469.2,617.2 468.3,618.3 466.3,616.8 465.2,617.4 464.0,617.3 462.8,618.2 461.4,619.7 460.3,617.6 459.2,617.1 458.2,616.4 457.1,615.9 454.8,617.0 454.4,615.3 454.0,613.9 453.4,612.8 453.4,611.4 450.8,611.3 450.4,610.0 451.1,608.5 450.9,607.3 452.2,606.0 450.6,604.7 449.8,603.2 451.2,602.2 451.5,601.0 453.5,600.6 453.6,599.3 452.9,597.1 454.5,596.8 455.3,595.7 457.1,596.2 458.4,596.2 458.8,593.7 460.2,593.7 461.5,593.2 462.8,594.0 463.9,595.6 465.4,594.0 466.7,594.1 468.0,594.3 469.2,594.9 469.0,597.5 470.6,597.3 472.0,597.7 473.0,598.6 474.4,599.3 472.9,601.5 473.4,602.6 474.7,603.5 474.9,604.7" fill="#8899b4" opacity="0.45"/>
<polygon points="474.0,606.0 473.4,607.4 473.4,608.8 472.0,609.8 472.3,611.5 471.9,612.9 470.5,613.7 469.3,614.4 468.1,615.2 466.5,615.0 465.6,616.4 464.4,618.3 462.8,616.5 461.4,616.5 460.1,615.9 458.9,615.3 457.1,615.9 456.0,614.8 455.0,613.8 454.5,612.4 454.0,611.1 452.9,610.1 451.6,609.0 452.5,607.4 452.7,606.0 451.4,604.5 452.8,603.3 452.4,601.7 453.1,600.4 455.0,600.0 455.5,598.7 456.3,597.5 457.0,596.0 458.4,595.4 460.1,595.9 461.5,596.3 462.8,595.2 464.2,595.4 465.6,595.4 467.4,594.8 467.7,597.5 469.0,597.9 470.7,598.1 471.3,599.4 472.4,600.4 472.5,602.0 473.0,603.3 473.6,604.6" fill="#8899b4"/>
<path d="M458.9,604.9 q2.2,-4.5 5.6,-1.7 q2.2,3.9 -1.1,5.6" stroke="#71829d" stroke-width="1.12" fill="none"/>
<circle cx="463.9" cy="607.7" r="1.8" fill="#76879f"/>
<ellipse cx="426.0" cy="618.1" rx="4.8" ry="3.2" fill="#d4dae3" transform="rotate(172 426.0 618.1)"/>
<ellipse cx="443.3" cy="604.6" rx="4.8" ry="3.2" fill="#d4dae3" transform="rotate(292 443.3 604.6)"/>
<ellipse cx="446.2" cy="626.3" rx="4.8" ry="3.2" fill="#d4dae3" transform="rotate(413 446.2 626.3)"/>
<circle cx="426.0" cy="613.0" r="1.2" fill="#7a8aa3"/>
<circle cx="442.2" cy="603.9" r="1.2" fill="#7a8aa3"/>
<circle cx="450.7" cy="620.3" r="1.2" fill="#7a8aa3"/>
<circle cx="434.1" cy="628.4" r="1.2" fill="#7a8aa3"/>
<polygon points="450.8,616.3 449.3,617.4 451.0,619.0 451.3,620.5 450.0,621.4 449.6,622.7 447.3,622.7 447.4,624.3 447.5,626.3 446.0,626.6 445.1,627.7 443.1,626.7 442.0,626.9 441.2,629.2 439.8,629.0 438.5,629.7 437.2,628.4 436.3,626.9 434.6,628.4 433.3,627.9 431.8,627.8 430.9,626.8 431.3,624.3 429.5,624.4 428.3,623.7 427.2,622.8 426.0,621.9 427.8,619.8 427.1,618.7 426.2,617.6 425.9,616.3 424.6,614.8 426.7,613.8 427.7,612.8 427.3,611.3 428.0,610.3 427.2,608.1 428.9,607.7 430.9,607.9 431.4,606.5 432.7,606.2 433.0,604.0 434.3,603.3 436.1,604.9 437.2,604.3 438.5,604.8 439.8,603.7 441.4,602.6 442.3,604.7 443.4,605.2 444.3,606.3 445.5,606.7 447.9,605.9 448.0,607.8 448.4,609.1 448.7,610.4 448.7,611.8 451.4,612.1 451.4,613.5 450.9,615.0" fill="#8899b4" opacity="0.45"/>
<polygon points="449.8,616.3 450.6,617.9 448.2,618.9 448.3,620.4 448.5,622.0 447.3,623.0 446.5,624.3 445.0,624.8 443.9,625.7 442.8,626.7 441.5,627.4 439.9,627.2 438.5,627.4 437.2,626.4 435.8,626.4 433.6,628.1 432.9,625.9 431.9,624.9 430.9,623.9 430.5,622.5 428.7,621.9 427.6,620.8 427.3,619.3 427.8,617.7 428.0,616.3 428.1,614.9 427.0,613.2 428.1,612.0 429.5,611.1 429.2,609.2 431.1,608.9 431.7,607.4 432.6,606.0 434.5,606.6 435.8,606.3 437.1,605.5 438.5,604.7 440.0,604.7 441.4,605.3 442.3,607.0 443.9,607.0 445.2,607.6 446.3,608.5 448.5,608.6 447.7,611.0 447.8,612.4 449.3,613.4 449.5,614.9" fill="#8899b4"/>
<path d="M434.5,615.1 q2.3,-4.6 5.8,-1.7 q2.3,4.0 -1.2,5.8" stroke="#71829d" stroke-width="1.15" fill="none"/>
<circle cx="439.6" cy="618.0" r="1.8" fill="#76879f"/>
<ellipse cx="449.7" cy="624.9" rx="5.0" ry="3.4" fill="#d4dae3" transform="rotate(246 449.7 624.9)"/>
<ellipse cx="468.1" cy="638.5" rx="5.0" ry="3.4" fill="#d4dae3" transform="rotate(367 468.1 638.5)"/>
<ellipse cx="447.1" cy="647.5" rx="5.0" ry="3.4" fill="#d4dae3" transform="rotate(487 447.1 647.5)"/>
<circle cx="460.1" cy="624.6" r="1.2" fill="#7a8aa3"/>
<circle cx="467.3" cy="642.4" r="1.2" fill="#7a8aa3"/>
<circle cx="449.2" cy="649.1" r="1.2" fill="#7a8aa3"/>
<circle cx="443.0" cy="630.9" r="1.2" fill="#7a8aa3"/>
<polygon points="467.8,637.0 468.2,638.4 469.3,640.0 466.8,640.8 466.0,641.9 465.9,643.3 465.2,644.4 465.9,646.8 463.9,646.9 462.0,646.7 461.3,647.9 459.9,648.0 459.4,650.5 457.9,650.7 456.3,649.1 455.0,649.6 453.8,648.7 452.2,650.1 450.5,650.8 449.9,648.6 448.6,648.1 448.1,646.6 446.6,646.3 444.1,646.8 444.3,644.7 443.8,643.5 443.9,641.9 443.9,640.6 441.1,640.0 441.4,638.4 441.8,637.0 442.4,635.7 444.0,634.7 442.2,632.8 442.3,631.3 443.5,630.4 444.2,629.2 446.6,629.5 446.5,627.6 446.8,625.7 448.3,625.4 449.4,624.4 451.4,625.8 452.5,625.4 453.6,623.4 455.0,623.7 456.5,623.0 457.6,624.8 458.5,626.2 460.4,624.9 461.6,625.6 463.3,625.6 464.0,627.0 463.4,629.4 465.3,629.5 466.2,630.5 467.6,631.4 468.5,632.6 466.4,634.6 467.2,635.7" fill="#8899b4" opacity="0.45"/>
<polygon points="466.7,637.0 465.3,638.4 465.9,639.9 465.7,641.4 465.0,642.8 465.4,645.0 462.7,644.7 461.4,645.4 460.9,647.2 459.4,647.7 458.1,648.4 456.5,648.6 455.0,648.3 453.5,648.1 451.9,648.7 450.6,647.6 449.1,647.2 448.3,645.7 447.6,644.4 444.8,644.9 444.7,643.0 444.5,641.3 443.9,640.0 444.5,638.4 443.9,637.0 442.7,635.4 443.0,633.8 444.6,632.7 445.3,631.4 446.6,630.5 446.6,628.6 447.6,627.3 449.5,627.5 450.3,625.8 452.2,626.4 453.5,626.0 455.0,624.6 456.5,625.5 457.8,626.6 459.3,626.6 461.0,626.6 462.2,627.7 463.7,628.3 463.6,630.4 464.4,631.6 465.6,632.6 465.9,634.1 468.1,635.3" fill="#8899b4"/>
<path d="M450.8,635.8 q2.4,-4.8 6.0,-1.8 q2.4,4.2 -1.2,6.0" stroke="#71829d" stroke-width="1.20" fill="none"/>
<circle cx="456.2" cy="638.8" r="1.9" fill="#76879f"/>
<ellipse cx="442.3" cy="639.5" rx="4.8" ry="3.2" fill="#d4dae3" transform="rotate(321 442.3 639.5)"/>
<ellipse cx="434.4" cy="660.0" rx="4.8" ry="3.2" fill="#d4dae3" transform="rotate(441 434.4 660.0)"/>
<ellipse cx="420.7" cy="642.9" rx="4.8" ry="3.2" fill="#d4dae3" transform="rotate(561 420.7 642.9)"/>
<circle cx="443.7" cy="653.9" r="1.2" fill="#7a8aa3"/>
<circle cx="425.8" cy="658.5" r="1.2" fill="#7a8aa3"/>
<circle cx="421.7" cy="640.5" r="1.2" fill="#7a8aa3"/>
<circle cx="439.8" cy="636.9" r="1.2" fill="#7a8aa3"/>
<polygon points="445.4,647.5 445.2,648.8 444.3,650.0 442.8,650.8 444.4,652.8 443.9,654.1 442.9,655.1 441.9,656.0 439.7,655.5 439.7,657.4 439.1,658.9 437.7,659.3 436.6,660.1 434.8,658.3 433.7,659.0 432.5,660.5 431.2,660.2 429.7,660.8 428.9,658.7 428.0,657.6 426.2,658.5 425.1,657.6 423.3,657.7 423.1,656.0 423.7,653.9 421.9,653.6 421.3,652.5 419.8,651.6 419.3,650.3 421.4,648.7 420.6,647.5 420.5,646.2 420.0,644.8 419.2,643.2 421.7,642.7 422.4,641.7 422.8,640.5 423.5,639.4 423.1,637.0 425.1,637.4 426.7,637.4 427.6,636.6 428.9,636.5 429.6,634.0 431.1,634.3 432.5,635.7 433.8,635.5 434.8,636.6 436.5,635.1 438.1,634.9 438.6,637.0 439.7,637.5 440.0,639.2 441.5,639.4 443.8,639.3 443.4,641.2 444.0,642.4 443.4,644.0 443.6,645.1 446.1,646.1" fill="#8899b4" opacity="0.45"/>
<polygon points="442.7,647.5 443.3,648.9 443.7,650.5 443.0,651.9 442.6,653.4 440.6,653.7 439.9,654.9 439.2,656.3 438.0,656.9 437.3,659.2 435.4,658.1 433.8,657.4 432.5,658.4 431.0,658.5 429.6,658.3 428.1,658.2 426.9,657.2 426.3,655.6 424.4,655.6 423.7,654.3 422.7,653.1 422.3,651.7 422.9,650.1 420.8,649.0 420.9,647.5 421.6,646.1 421.7,644.6 422.8,643.5 423.7,642.4 423.3,640.4 423.8,638.8 425.9,638.9 427.0,638.0 428.6,638.1 429.7,637.0 430.9,635.7 432.5,636.6 434.0,636.0 435.3,637.2 436.4,638.0 438.3,637.5 439.6,638.3 439.9,640.1 441.0,641.0 442.4,641.8 442.5,643.4 444.0,644.4 443.4,646.1" fill="#8899b4"/>
<path d="M428.5,646.4 q2.3,-4.6 5.8,-1.7 q2.3,4.0 -1.2,5.8" stroke="#71829d" stroke-width="1.15" fill="none"/>
<circle cx="433.6" cy="649.2" r="1.8" fill="#76879f"/>
<ellipse cx="478.8" cy="662.0" rx="5.0" ry="3.4" fill="#d4dae3" transform="rotate(395 478.8 662.0)"/>
<ellipse cx="456.0" cy="659.8" rx="5.0" ry="3.4" fill="#d4dae3" transform="rotate(516 456.0 659.8)"/>
<ellipse cx="469.4" cy="641.3" rx="5.0" ry="3.4" fill="#d4dae3" transform="rotate(636 469.4 641.3)"/>
<circle cx="459.9" cy="665.1" r="1.2" fill="#7a8aa3"/>
<circle cx="457.5" cy="646.0" r="1.2" fill="#7a8aa3"/>
<circle cx="476.7" cy="644.2" r="1.2" fill="#7a8aa3"/>
<circle cx="478.0" cy="663.4" r="1.2" fill="#7a8aa3"/>
<polygon points="479.7,654.4 480.5,655.7 480.1,657.0 480.9,658.6 481.3,660.3 478.6,660.5 478.0,661.7 477.1,662.6 476.6,663.9 476.7,666.3 474.5,665.6 473.0,665.7 471.8,666.2 470.5,666.2 469.5,668.8 468.0,668.1 466.7,666.8 465.4,666.7 464.4,665.4 462.4,667.0 460.9,666.7 460.5,664.7 459.4,664.0 459.5,662.1 457.6,662.0 455.5,661.6 456.0,659.7 455.4,658.5 456.5,656.8 456.1,655.7 453.8,654.4 454.7,653.0 454.8,651.6 456.2,650.6 457.6,649.8 456.1,647.5 457.0,646.4 457.9,645.3 459.2,644.6 461.4,645.4 461.5,643.1 462.5,642.0 463.8,641.5 465.1,640.9 466.8,643.0 468.0,642.1 469.4,641.0 470.8,641.4 472.4,640.8 472.9,643.3 473.9,644.3 475.7,643.7 476.7,644.7 478.7,644.7 478.5,646.7 478.0,648.6 479.7,649.2 480.0,650.5 481.8,651.5 481.8,652.9" fill="#8899b4" opacity="0.45"/>
<polygon points="479.1,654.4 478.8,655.8 479.8,657.6 479.1,659.0 477.3,659.8 476.9,661.2 476.5,662.9 475.0,663.5 474.2,665.2 472.3,664.8 470.8,664.7 469.5,665.7 468.0,665.6 466.3,667.2 464.9,666.1 464.0,664.2 462.5,663.9 460.9,663.6 459.9,662.5 458.3,661.8 457.4,660.5 458.4,658.4 456.8,657.4 456.4,655.9 456.3,654.4 456.2,652.8 457.8,651.7 457.1,649.9 457.6,648.4 458.8,647.3 459.7,646.1 461.1,645.4 462.8,645.4 463.6,643.7 464.6,641.8 466.5,643.1 468.0,642.8 469.4,643.7 470.8,644.0 472.7,643.1 473.9,644.2 475.4,644.8 476.0,646.4 476.4,647.9 477.9,648.7 479.5,649.6 478.9,651.5 479.0,652.9" fill="#8899b4"/>
<path d="M463.8,653.2 q2.4,-4.8 6.0,-1.8 q2.4,4.2 -1.2,6.0" stroke="#71829d" stroke-width="1.20" fill="none"/>
<circle cx="469.2" cy="656.2" r="1.9" fill="#76879f"/>
<rect x="415" y="664" width="53.1" height="21.0" fill="#e2e2e2" stroke="#cfcfcf" stroke-width="0.5"/>
<text x="440.9" y="673.1" font-size="6.8" fill="#2a2a2a" text-anchor="middle" font-weight="normal" textLength="28.1" lengthAdjust="spacingAndGlyphs" >Increased</text>
<text x="440.8" y="680.6" font-size="6.8" fill="#2a2a2a" text-anchor="middle" font-weight="normal" textLength="27.9" lengthAdjust="spacingAndGlyphs" >cell death</text>
<rect x="0" y="0" width="520" height="1" fill="#4d4d4d"/><rect x="0" y="699" width="520" height="1" fill="#3d3d3d"/><rect x="0" y="0" width="1" height="700" fill="#4d4d4d"/><rect x="519" y="0" width="1" height="700" fill="#454545"/>
</svg></body></html>
